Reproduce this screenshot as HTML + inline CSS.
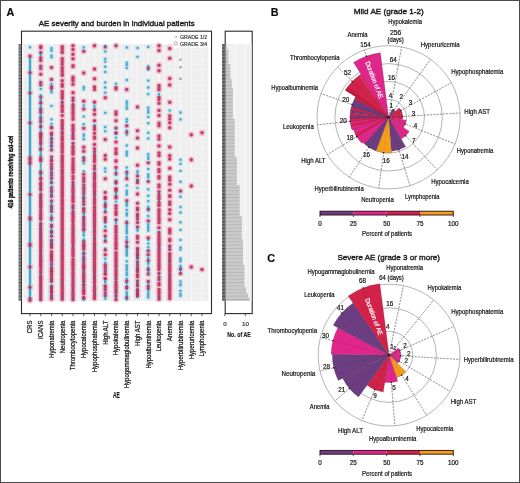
<!DOCTYPE html>
<html><head><meta charset="utf-8"><style>
html,body{margin:0;padding:0;background:#fff;}
body{width:520px;height:483px;overflow:hidden;}
svg{display:block;font-family:"Liberation Sans",sans-serif;will-change:transform;}
</style></head><body>
<svg width="520" height="483" viewBox="0 0 520 483">
<defs><filter id="gblur" x="0" y="0" width="100%" height="100%"><feGaussianBlur stdDeviation="0.3"/></filter><pattern id="tickpat" patternUnits="userSpaceOnUse" x="0" y="44.1" width="10" height="3.4"><rect width="10" height="3.4" fill="#8a8a8a"/><rect y="0" width="10" height="1.2" fill="#606060"/></pattern><pattern id="tickpat2" patternUnits="userSpaceOnUse" x="0" y="44.1" width="10" height="3.4"><rect width="10" height="3.4" fill="#7a7a7a"/><rect y="0" width="10" height="1.3" fill="#444"/></pattern><pattern id="histpat" patternUnits="userSpaceOnUse" x="0" y="44.1" width="10" height="3.4"><rect width="10" height="3.4" fill="#cacaca"/><rect y="0" width="10" height="0.8" fill="#b4b4b4"/></pattern><filter id="soft" x="-5%" y="-5%" width="110%" height="110%"><feGaussianBlur stdDeviation="0.2"/></filter></defs>
<rect x="0" y="0" width="520" height="483" fill="#fff"/>
<g filter="url(#gblur)">
<text x="6.6" y="15.8" font-size="10.8" font-weight="bold" fill="#111" stroke="#111" stroke-width="0.2">A</text>
<text x="38.8" y="26.2" font-size="8" textLength="155.8" lengthAdjust="spacingAndGlyphs" fill="#151515" stroke="#151515" stroke-width="0.36">AE severity and burden in individual patients</text>
<rect x="21.5" y="31.2" width="190" height="282.4" fill="#fff" stroke="#2a2a2a" stroke-width="1.1"/>
<rect x="23.3" y="44.1" width="185.2" height="256.9" fill="#eeeeee"/>
<path d="M30 44.1V301.0M40.75 44.1V301.0M51.5 44.1V301.0M62.25 44.1V301.0M73 44.1V301.0M83.75 44.1V301.0M94.5 44.1V301.0M105.25 44.1V301.0M116 44.1V301.0M126.75 44.1V301.0M137.5 44.1V301.0M148.25 44.1V301.0M159 44.1V301.0M169.75 44.1V301.0M180.5 44.1V301.0M191.25 44.1V301.0M202 44.1V301.0" stroke="#fafafa" stroke-width="0.9"/>
<path d="M35.38 44.1V301.0M46.12 44.1V301.0M56.88 44.1V301.0M67.62 44.1V301.0M78.38 44.1V301.0M89.12 44.1V301.0M99.88 44.1V301.0M110.62 44.1V301.0M121.38 44.1V301.0M132.12 44.1V301.0M142.88 44.1V301.0M153.62 44.1V301.0M164.38 44.1V301.0M175.12 44.1V301.0M185.88 44.1V301.0M196.62 44.1V301.0" stroke="#f6f6f6" stroke-width="0.6"/>
<path d="M23.3 49.1H208.5M23.3 54.3H208.5M23.3 59.5H208.5M23.3 64.7H208.5M23.3 69.9H208.5M23.3 75.1H208.5M23.3 80.3H208.5M23.3 85.5H208.5M23.3 90.7H208.5M23.3 95.9H208.5M23.3 101.1H208.5M23.3 106.3H208.5M23.3 111.5H208.5M23.3 116.7H208.5M23.3 121.9H208.5M23.3 127.1H208.5M23.3 132.3H208.5M23.3 137.5H208.5M23.3 142.7H208.5M23.3 147.9H208.5M23.3 153.1H208.5M23.3 158.3H208.5M23.3 163.5H208.5M23.3 168.7H208.5M23.3 173.9H208.5M23.3 179.1H208.5M23.3 184.3H208.5M23.3 189.5H208.5M23.3 194.7H208.5M23.3 199.9H208.5M23.3 205.1H208.5M23.3 210.3H208.5M23.3 215.5H208.5M23.3 220.7H208.5M23.3 225.9H208.5M23.3 231.1H208.5M23.3 236.3H208.5M23.3 241.5H208.5M23.3 246.7H208.5M23.3 251.9H208.5M23.3 257.1H208.5M23.3 262.3H208.5M23.3 267.5H208.5M23.3 272.7H208.5M23.3 277.9H208.5M23.3 283.1H208.5M23.3 288.3H208.5M23.3 293.5H208.5M23.3 298.7H208.5" stroke="#f4f4f4" stroke-width="0.5"/>
<rect x="18.5" y="44.1" width="2.7" height="256.6" fill="url(#tickpat)"/>
<g filter="url(#soft)">
<path d="M40.75 46.57v0M40.75 57.73v0M40.75 74.35v0M40.75 102.68v0M40.75 126.62v0M40.75 134.23v0M40.75 134.81v0M40.75 136.3v0M40.75 137.15v0M40.75 137.56v0M40.75 138.4v0M40.75 141.59v0M40.75 143.72v0M40.75 148.64v0M40.75 149.49v0M40.75 158.1v0M40.75 159.48v0M40.75 160.61v0M40.75 172.18v0M40.75 173.03v0M40.75 178.21v0M40.75 178.99v0M40.75 183v0M40.75 184.35v0M40.75 185.09v0M40.75 187.69v0M40.75 189.43v0M40.75 194.66v0M40.75 195.54v0M40.75 197.45v0M40.75 198.06v0M40.75 200.49v0M40.75 202.12v0M40.75 203.44v0M40.75 204.85v0M40.75 205.86v0M40.75 207.57v0M40.75 210.62v0M40.75 213.51v0M40.75 215.4v0M40.75 217.7v0M40.75 219.06v0M40.75 223.7v0M40.75 225.8v0M40.75 226.25v0M40.75 228.85v0M40.75 230.04v0M40.75 231.9v0M40.75 232.85v0M40.75 234.37v0M40.75 235.3v0M40.75 236.71v0M40.75 237.13v0M40.75 237.57v0M40.75 239.17v0M40.75 239.91v0M40.75 240.3v0M40.75 241.16v0M40.75 242.46v0M40.75 242.78v0M40.75 245.1v0M40.75 246.31v0M40.75 247.57v0M40.75 249.6v0M40.75 251.32v0M40.75 251.72v0M40.75 253.98v0M40.75 255.89v0M40.75 256.68v0M40.75 258.36v0M40.75 259.3v0M40.75 259.92v0M40.75 260.65v0M40.75 261.43v0M40.75 262.7v0M40.75 264.68v0M40.75 265.5v0M40.75 267.5v0M40.75 270.44v0M40.75 272.48v0M40.75 275.73v0M40.75 277.55v0M40.75 278.05v0M40.75 279.58v0M40.75 280.71v0M40.75 282.84v0M40.75 284.89v0M40.75 285.59v0M40.75 287.67v0M40.75 288.57v0M40.75 290.83v0M40.75 291.25v0M40.75 293.35v0M40.75 294.06v0M40.75 295.79v0M40.75 296.85v0M40.75 298.3v0M40.75 299.51v0M51.5 67.62v0M51.5 88.2v0M51.5 127.14v0M51.5 133.3v0M51.5 160.81v0M51.5 226.62v0M51.5 231.55v0M51.5 245.12v0M51.5 246.58v0M51.5 254.36v0M51.5 255.53v0M51.5 258.71v0M51.5 268.89v0M51.5 270.41v0M51.5 270.93v0M51.5 275.45v0M51.5 279.88v0M51.5 286.69v0M51.5 288.21v0M51.5 290.23v0M51.5 292.61v0M51.5 295.49v0M62.25 46.67v0M62.25 49.03v0M62.25 51.64v0M62.25 52.41v0M62.25 58.75v0M62.25 61.51v0M62.25 64.27v0M62.25 67.84v0M62.25 68.3v0M62.25 70.48v0M62.25 71.38v0M62.25 74.12v0M62.25 75.34v0M62.25 80.8v0M62.25 84.35v0M62.25 84.98v0M62.25 86.23v0M62.25 91.42v0M62.25 93.44v0M62.25 95.3v0M62.25 96.29v0M62.25 97.45v0M62.25 98.38v0M62.25 102.44v0M62.25 105.45v0M62.25 106.28v0M62.25 106.7v0M62.25 109.41v0M62.25 111.42v0M62.25 115.45v0M62.25 120.42v0M62.25 120.98v0M62.25 121.36v0M62.25 123.47v0M62.25 124.4v0M62.25 125.4v0M62.25 126.26v0M62.25 128.57v0M62.25 128.94v0M62.25 131.97v0M62.25 133.54v0M62.25 134.04v0M62.25 136.86v0M62.25 138.23v0M62.25 138.9v0M62.25 139.62v0M62.25 140.15v0M62.25 143.14v0M62.25 144.96v0M62.25 146.03v0M62.25 146.72v0M62.25 148.06v0M62.25 148.79v0M62.25 151.31v0M62.25 152.25v0M62.25 155.73v0M62.25 156.33v0M62.25 157.83v0M62.25 158.46v0M62.25 159.03v0M62.25 160.33v0M62.25 160.95v0M62.25 161.42v0M62.25 162.38v0M62.25 164.53v0M62.25 166.17v0M62.25 167.11v0M62.25 169.63v0M62.25 171.18v0M62.25 172.62v0M62.25 173.95v0M62.25 174.58v0M62.25 176.81v0M62.25 178.46v0M62.25 179.2v0M62.25 180.11v0M62.25 181.52v0M62.25 182.48v0M62.25 184.02v0M62.25 185.47v0M62.25 186.46v0M62.25 187.55v0M62.25 187.97v0M62.25 189.59v0M62.25 190.41v0M62.25 191.85v0M62.25 192.28v0M62.25 192.63v0M62.25 192.92v0M62.25 194.36v0M62.25 194.89v0M62.25 195.84v0M62.25 196.57v0M62.25 198.27v0M62.25 199.07v0M62.25 200.18v0M62.25 200.96v0M62.25 201.37v0M62.25 202.04v0M62.25 203.4v0M62.25 203.98v0M62.25 205.08v0M62.25 205.42v0M62.25 207.37v0M62.25 207.65v0M62.25 208.17v0M62.25 208.68v0M62.25 209.11v0M62.25 209.56v0M62.25 211.17v0M62.25 212.81v0M62.25 214.05v0M62.25 214.79v0M62.25 215.32v0M62.25 216.13v0M62.25 216.55v0M62.25 217.44v0M62.25 218.36v0M62.25 219.01v0M62.25 219.37v0M62.25 219.67v0M62.25 220.46v0M62.25 221.78v0M62.25 222.55v0M62.25 223.03v0M62.25 223.94v0M62.25 224.75v0M62.25 225.34v0M62.25 226.4v0M62.25 227.72v0M62.25 228.04v0M62.25 228.5v0M62.25 229.62v0M62.25 230.62v0M62.25 231.85v0M62.25 232.32v0M62.25 233.84v0M62.25 234.48v0M62.25 235.38v0M62.25 236.07v0M62.25 237.14v0M62.25 238.04v0M62.25 239.75v0M62.25 240.47v0M62.25 242.06v0M62.25 243.12v0M62.25 244.28v0M62.25 244.64v0M62.25 244.92v0M62.25 245.25v0M62.25 247.28v0M62.25 248.3v0M62.25 249.36v0M62.25 249.92v0M62.25 250.26v0M62.25 250.96v0M62.25 252v0M62.25 252.64v0M62.25 254.15v0M62.25 254.49v0M62.25 255.44v0M62.25 256.38v0M62.25 257.52v0M62.25 258.19v0M62.25 259.99v0M62.25 260.87v0M62.25 262.48v0M62.25 263.07v0M62.25 264.4v0M62.25 265.34v0M62.25 265.79v0M62.25 267.3v0M62.25 268.89v0M62.25 269.77v0M62.25 270.56v0M62.25 271v0M62.25 272.16v0M62.25 272.8v0M62.25 273.11v0M62.25 273.49v0M62.25 273.9v0M62.25 274.69v0M62.25 275.43v0M62.25 276.87v0M62.25 278.26v0M62.25 278.71v0M62.25 279.03v0M62.25 279.74v0M62.25 280.07v0M62.25 280.45v0M62.25 281.31v0M62.25 282.38v0M62.25 283.24v0M62.25 283.55v0M62.25 284.57v0M62.25 284.97v0M62.25 286.06v0M62.25 286.62v0M62.25 287.36v0M62.25 287.76v0M62.25 288.96v0M62.25 289.66v0M62.25 291.48v0M62.25 292.06v0M62.25 293.03v0M62.25 293.36v0M62.25 293.76v0M62.25 294.41v0M62.25 294.84v0M62.25 295.3v0M62.25 295.8v0M62.25 296.33v0M62.25 297.83v0M62.25 298.27v0M62.25 298.74v0M62.25 299.17v0M73 45.86v0M73 49.45v0M73 54.31v0M73 58.79v0M73 65.72v0M73 66.47v0M73 77.16v0M73 77.61v0M73 79.06v0M73 80.37v0M73 80.7v0M73 84.22v0M73 92.69v0M73 97.96v0M73 100.8v0M73 104.85v0M73 106.24v0M73 107.01v0M73 107.41v0M73 110.12v0M73 112.57v0M73 113.39v0M73 116.41v0M73 119.2v0M73 125.21v0M73 126.97v0M73 128.59v0M73 129.99v0M73 131.72v0M73 134.64v0M73 136.04v0M73 137.67v0M73 138.4v0M73 143.33v0M73 146.17v0M73 147.16v0M73 148.28v0M73 150.48v0M73 151.49v0M73 152.19v0M73 153.25v0M73 154.18v0M73 158.83v0M73 161.18v0M73 162.66v0M73 164.14v0M73 164.96v0M73 166.08v0M73 167.85v0M73 168.32v0M73 168.77v0M73 169.58v0M73 170.23v0M73 172.54v0M73 176.22v0M73 178.9v0M73 182.39v0M73 185.12v0M73 187.58v0M73 188.76v0M73 189.78v0M73 190.65v0M73 191.91v0M73 192.73v0M73 194.91v0M73 195.94v0M73 196.32v0M73 197.61v0M73 198.82v0M73 199.68v0M73 200.9v0M73 201.83v0M73 205.52v0M73 207.23v0M73 208.2v0M73 211.74v0M73 212.91v0M73 213.48v0M73 214.32v0M73 214.68v0M73 215.44v0M73 216.2v0M73 217.87v0M73 219.14v0M73 220.36v0M73 221.3v0M73 221.75v0M73 224.48v0M73 226.72v0M73 227.56v0M73 228v0M73 228.83v0M73 229.21v0M73 230.67v0M73 231.44v0M73 233.1v0M73 233.99v0M73 234.75v0M73 235.3v0M73 236.58v0M73 237.46v0M73 237.94v0M73 238.6v0M73 240.22v0M73 240.91v0M73 241.9v0M73 242.43v0M73 243.3v0M73 243.93v0M73 246.82v0M73 248.22v0M73 248.7v0M73 249.39v0M73 250.97v0M73 251.85v0M73 253.45v0M73 254.28v0M73 254.67v0M73 255.15v0M73 256.05v0M73 259.62v0M73 261.27v0M73 262.19v0M73 262.84v0M73 264.29v0M73 264.64v0M73 265.37v0M73 266.11v0M73 267.93v0M73 269.59v0M73 272.34v0M73 272.69v0M73 273.05v0M73 273.47v0M73 275.47v0M73 275.89v0M73 277.83v0M73 278.82v0M73 280.19v0M73 281.94v0M73 283.14v0M73 284.33v0M73 285.15v0M73 285.89v0M73 287.49v0M73 289.29v0M73 289.79v0M73 292.32v0M73 292.86v0M73 293.87v0M73 294.33v0M73 295.02v0M73 296v0M73 297.02v0M73 298.45v0M73 299.41v0M83.75 101.37v0M83.75 147.15v0M83.75 174.27v0M83.75 177.83v0M83.75 201.52v0M83.75 209.45v0M83.75 217.35v0M83.75 219.25v0M83.75 221.06v0M83.75 230.05v0M83.75 245.71v0M83.75 247.37v0M83.75 263.77v0M83.75 266.6v0M83.75 269.51v0M83.75 275.59v0M83.75 276.87v0M83.75 277.82v0M83.75 278.16v0M83.75 279.42v0M83.75 281.02v0M83.75 285.55v0M83.75 287.88v0M83.75 291.5v0M83.75 293.08v0M83.75 293.74v0M83.75 298.02v0M94.5 45.7v0M94.5 69.08v0M94.5 78.83v0M94.5 86.95v0M94.5 89.56v0M94.5 102.25v0M94.5 109.97v0M94.5 114.33v0M94.5 120.87v0M94.5 126.87v0M94.5 129.25v0M94.5 133.27v0M94.5 137.05v0M94.5 138.27v0M94.5 144.39v0M94.5 148.65v0M94.5 151.68v0M94.5 155.09v0M94.5 156.81v0M94.5 159.22v0M94.5 160.66v0M94.5 161.75v0M94.5 165.63v0M94.5 168.41v0M94.5 169.27v0M94.5 173.3v0M94.5 173.99v0M94.5 174.63v0M94.5 176.62v0M94.5 178.08v0M94.5 179.7v0M94.5 182.52v0M94.5 183.45v0M94.5 184.28v0M94.5 185.05v0M94.5 186.18v0M94.5 186.73v0M94.5 187.54v0M94.5 189.71v0M94.5 191.12v0M94.5 192.11v0M94.5 193.93v0M94.5 195.08v0M94.5 195.55v0M94.5 198.57v0M94.5 199.92v0M94.5 201.31v0M94.5 203.43v0M94.5 203.81v0M94.5 206.63v0M94.5 207.36v0M94.5 209.98v0M94.5 212.06v0M94.5 212.47v0M94.5 214.08v0M94.5 215v0M94.5 215.78v0M94.5 217.12v0M94.5 217.97v0M94.5 219.37v0M94.5 220.63v0M94.5 221.02v0M94.5 222.06v0M94.5 222.84v0M94.5 224.94v0M94.5 226.06v0M94.5 227.14v0M94.5 229.78v0M94.5 231.59v0M94.5 232.23v0M94.5 234.72v0M94.5 237.83v0M94.5 238.48v0M94.5 240.44v0M94.5 242.91v0M94.5 243.25v0M94.5 243.87v0M94.5 244.88v0M94.5 246.52v0M94.5 247.58v0M94.5 248.64v0M94.5 249.66v0M94.5 250.8v0M94.5 251.45v0M94.5 252.04v0M94.5 253.3v0M94.5 253.66v0M94.5 254.26v0M94.5 254.64v0M94.5 255.75v0M94.5 256.67v0M94.5 257.08v0M94.5 258.22v0M94.5 259.59v0M94.5 261.98v0M94.5 262.44v0M94.5 262.86v0M94.5 263.28v0M94.5 264.24v0M94.5 264.74v0M94.5 265.16v0M94.5 266.03v0M94.5 267.78v0M94.5 268.29v0M94.5 268.98v0M94.5 269.95v0M94.5 271.6v0M94.5 272.43v0M94.5 274.51v0M94.5 275.22v0M94.5 276.63v0M94.5 277.26v0M94.5 278.43v0M94.5 279.54v0M94.5 281.64v0M94.5 282.98v0M94.5 286.11v0M94.5 287.11v0M94.5 288.76v0M94.5 289.29v0M94.5 289.77v0M94.5 290.59v0M94.5 291.91v0M94.5 293.96v0M94.5 294.59v0M94.5 295.4v0M94.5 296.44v0M94.5 296.93v0M94.5 297.99v0M94.5 298.54v0M105.25 97.64v0M105.25 155.51v0M105.25 159.17v0M105.25 197.16v0M105.25 206.54v0M105.25 219.45v0M105.25 230.77v0M105.25 236.09v0M105.25 249.92v0M105.25 254.77v0M105.25 264.97v0M105.25 265.84v0M105.25 267.08v0M105.25 274.37v0M105.25 278.38v0M105.25 285.94v0M116 87.61v0M116 88.98v0M116 114.35v0M116 132.63v0M116 141.97v0M116 148.88v0M116 153.76v0M116 160.64v0M116 161.36v0M116 167.56v0M116 173.51v0M116 181.79v0M116 189.52v0M116 197.99v0M116 205.67v0M116 208.59v0M116 211.68v0M116 212.94v0M116 214.49v0M116 220.09v0M116 226.13v0M116 228.34v0M116 230.06v0M116 231.16v0M116 232.53v0M116 235.48v0M116 237.93v0M116 239.77v0M116 242.16v0M116 243.23v0M116 244.65v0M116 245.5v0M116 246.02v0M116 248.25v0M116 248.75v0M116 252.73v0M116 253.38v0M116 255.31v0M116 255.94v0M116 257.78v0M116 258.74v0M116 259.47v0M116 260.44v0M116 261.07v0M116 262v0M116 263.78v0M116 264.12v0M116 265.22v0M116 265.71v0M116 266.37v0M116 266.78v0M116 267.19v0M116 269.62v0M116 270.66v0M116 272.33v0M116 273.96v0M116 275.04v0M116 275.7v0M116 278.26v0M116 279.27v0M116 282.18v0M116 284.21v0M116 284.84v0M116 285.48v0M116 286.43v0M116 286.75v0M116 288.21v0M116 289.53v0M116 290.66v0M116 292.03v0M116 292.69v0M116 295.67v0M116 296.04v0M116 296.35v0M116 299.39v0M126.75 132.33v0M126.75 178.76v0M126.75 222.63v0M126.75 241.89v0M126.75 281.26v0M126.75 287.17v0M126.75 288.04v0M137.5 148.01v0M137.5 165.3v0M137.5 182.43v0M137.5 193.94v0M137.5 208.25v0M137.5 216.19v0M137.5 236.33v0M137.5 238.25v0M137.5 248.55v0M137.5 254.88v0M137.5 262.16v0M137.5 269.55v0M137.5 274.86v0M137.5 276.65v0M137.5 283.96v0M137.5 285.91v0M137.5 289.84v0M137.5 291.08v0M137.5 293.79v0M137.5 296.02v0M148.25 68.24v0M148.25 237.96v0M148.25 269.52v0M148.25 281.43v0M148.25 286.38v0M148.25 288.33v0M159 45.74v0M159 50.57v0M159 65.27v0M159 70.76v0M159 85.62v0M159 87.95v0M159 89.81v0M159 97.15v0M159 99.61v0M159 103.37v0M159 110.39v0M159 115.61v0M159 123.27v0M159 125.77v0M159 135.97v0M159 138.94v0M159 145.98v0M159 153.11v0M159 155.59v0M159 162.73v0M159 164.35v0M159 169.53v0M159 171.26v0M159 171.79v0M159 176.59v0M159 178.04v0M159 184.98v0M159 186.99v0M159 191.81v0M159 194.89v0M159 196.58v0M159 198.71v0M159 202.24v0M159 204.11v0M159 205.87v0M159 209.64v0M159 210.04v0M159 211.43v0M159 214.24v0M159 214.7v0M159 217.56v0M159 218.61v0M159 220.16v0M159 222.8v0M159 227.66v0M159 232.43v0M159 235.07v0M159 237.2v0M159 237.83v0M159 239.45v0M159 241.13v0M159 242.46v0M159 243.55v0M159 245.37v0M159 246.56v0M159 248.64v0M159 250.47v0M159 251.85v0M159 253.18v0M159 255.62v0M159 256.47v0M159 257.29v0M159 259.71v0M159 260.46v0M159 262.92v0M159 263.53v0M159 265.04v0M159 265.64v0M159 266.23v0M159 267.83v0M159 269.5v0M159 273.17v0M159 277v0M159 279.55v0M159 279.87v0M159 283.54v0M159 283.89v0M159 284.35v0M159 284.99v0M159 289.46v0M159 292.02v0M159 293.87v0M159 296.19v0M159 298.21v0M159 299.01v0M169.75 48.46v0M169.75 58.35v0M169.75 78.54v0M169.75 84.88v0M169.75 102.17v0M169.75 116.01v0M169.75 118.99v0M169.75 122.82v0M169.75 127.85v0M169.75 147.11v0M169.75 155.63v0M169.75 158.95v0M169.75 168.28v0M169.75 177.06v0M169.75 178.46v0M169.75 180.25v0M169.75 184.13v0M169.75 190.36v0M169.75 195.82v0M169.75 196.59v0M169.75 201.9v0M169.75 204.61v0M169.75 209.79v0M169.75 213.52v0M169.75 219.67v0M169.75 229.24v0M169.75 230.71v0M169.75 231.47v0M169.75 233.12v0M169.75 239.22v0M169.75 240.8v0M169.75 245.98v0M169.75 246.44v0M169.75 249.49v0M169.75 253.73v0M169.75 254.56v0M169.75 256.05v0M169.75 257.7v0M169.75 259.7v0M169.75 261.25v0M169.75 261.89v0M169.75 264.78v0M169.75 266.98v0M169.75 268.25v0M169.75 269.24v0M169.75 270.13v0M169.75 271.7v0M169.75 274.2v0M169.75 275.33v0M169.75 275.89v0M169.75 277.92v0M169.75 279.04v0M169.75 280.31v0M169.75 281.56v0M169.75 282.18v0M169.75 282.97v0M169.75 283.34v0M169.75 284.26v0M169.75 284.7v0M169.75 285.61v0M169.75 286.69v0M169.75 287.45v0M169.75 288.15v0M169.75 288.96v0M169.75 289.37v0M169.75 291.15v0M169.75 291.59v0M169.75 294.06v0M169.75 294.75v0M169.75 296.48v0M169.75 298.47v0M180.5 273.42v0M30 56.3v0M30 72.8v0M30 93v0M30 123v0M30 157.7v0M30 159.2v0M30 162v0M30 163.5v0M30 194.6v0M30 217.7v0M30 219.2v0M30 244v0M30 245.5v0M30 267v0M30 287.3v0M30 298.8v0M30 300.3v0M191.25 134.8v0M191.25 159.8v0M191.25 186v0M191.25 267v0M202 132.8v0M202 269.6v0M40.75 47.63v0M40.75 52.49v0M40.75 60.45v0M40.75 66.33v0M40.75 68.4v0M40.75 82.53v0M40.75 84.94v0M40.75 97.08v0M40.75 109.27v0M40.75 109.94v0M40.75 112.21v0M40.75 118.17v0M40.75 121.52v0M40.75 133.52v0M51.5 79.45v0M51.5 86.82v0M51.5 128.07v0M51.5 134.83v0M51.5 138.5v0M51.5 139.21v0M51.5 142.59v0M51.5 145.9v0M51.5 150.06v0M51.5 157.02v0M51.5 160.34v0M51.5 163.88v0M51.5 166.82v0M51.5 169v0M51.5 172.53v0M51.5 175.16v0M51.5 178.14v0M51.5 182.7v0M51.5 187.9v0M51.5 190.62v0M51.5 191.5v0M51.5 195.01v0M51.5 196.59v0M51.5 200.9v0M51.5 205.96v0M51.5 206.9v0M51.5 208.97v0M51.5 211.52v0M51.5 217.86v0M51.5 219.02v0M51.5 224.98v0M51.5 232.29v0M51.5 236.24v0M51.5 240.27v0M51.5 242.22v0M51.5 243.87v0M51.5 244.6v0M51.5 247.53v0M51.5 251.87v0M51.5 256.8v0M51.5 259.74v0M51.5 261.17v0M51.5 264.29v0M51.5 267.87v0M51.5 271.8v0M51.5 273.72v0M51.5 278.21v0M51.5 278.71v0M51.5 281.43v0M51.5 287.84v0M51.5 291.56v0M51.5 297.43v0M51.5 298.01v0M51.5 298.73v0M83.75 51.23v0M83.75 73.04v0M83.75 109.05v0M83.75 128.18v0M83.75 151.22v0M83.75 158.03v0M83.75 160.32v0M83.75 180.3v0M83.75 181.39v0M83.75 185.1v0M83.75 187.62v0M83.75 188.59v0M83.75 189.28v0M83.75 191.8v0M83.75 194v0M83.75 197.56v0M83.75 198.59v0M83.75 204.52v0M83.75 208.43v0M83.75 211.66v0M83.75 223.18v0M83.75 224.76v0M83.75 225.05v0M83.75 226.58v0M83.75 229.11v0M83.75 241.57v0M83.75 242.8v0M83.75 243.92v0M83.75 245.25v0M83.75 249.14v0M83.75 253.26v0M83.75 254.1v0M83.75 257.59v0M83.75 259.43v0M83.75 261.32v0M83.75 266.04v0M83.75 267.68v0M83.75 272.28v0M83.75 273.61v0M83.75 282.05v0M83.75 284.45v0M83.75 290.27v0M83.75 297.52v0M83.75 298.59v0M105.25 47.08v0M105.25 139.43v0M105.25 178.66v0M105.25 192.58v0M105.25 198.78v0M105.25 204.51v0M105.25 212.12v0M105.25 217.58v0M105.25 221.78v0M105.25 241.31v0M105.25 269.38v0M105.25 271.24v0M105.25 273.52v0M105.25 278.77v0M105.25 286.44v0M105.25 289.08v0M105.25 289.86v0M105.25 292.95v0M105.25 295.75v0M116 45.79v0M116 112v0M116 120.67v0M116 128.11v0M116 133.16v0M116 152.02v0M116 182.88v0M116 188.65v0M116 189.19v0M116 190.29v0M116 191.03v0M116 196.37v0M126.75 89.44v0M126.75 125.81v0M126.75 172.59v0M126.75 200.73v0M126.75 246.39v0M126.75 297.76v0M137.5 106.91v0M137.5 130.8v0M137.5 137.91v0M137.5 176.06v0M137.5 180.14v0M137.5 203.33v0M137.5 209.89v0M137.5 214.15v0M137.5 214.95v0M137.5 219v0M137.5 222.54v0M137.5 227.12v0M137.5 242.37v0M137.5 249.87v0M137.5 251.7v0M137.5 253.67v0M137.5 255.87v0M137.5 257.5v0M137.5 257.97v0M137.5 265.48v0M137.5 267.96v0M137.5 270.21v0M137.5 271.73v0M137.5 280.88v0M137.5 290.47v0M137.5 293.25v0M137.5 294.61v0M148.25 162.76v0M148.25 181.48v0M148.25 209.3v0M148.25 221v0M148.25 251.08v0M148.25 254.69v0M148.25 260.44v0M148.25 274.06v0M180.5 190.91v0M180.5 269v0" stroke="#f3bfd0" stroke-width="6.4" stroke-linecap="round" fill="none"/>
<path d="M40.75 53.69v0M40.75 54.87v0M40.75 88.92v0M40.75 95.33v0M40.75 100.21v0M40.75 107.45v0M40.75 108.85v0M40.75 115.47v0M40.75 117.26v0M40.75 123.39v0M40.75 127.18v0M40.75 139.95v0M40.75 143.04v0M40.75 145.95v0M40.75 150.51v0M40.75 155.18v0M40.75 171.12v0M40.75 174.73v0M40.75 175.22v0M40.75 185.77v0M40.75 199.45v0M40.75 225.29v0M40.75 228.32v0M40.75 229.43v0M40.75 231.37v0M40.75 235.73v0M40.75 236.21v0M40.75 238.5v0M40.75 248.86v0M40.75 254.43v0M40.75 257.76v0M40.75 273.69v0M40.75 297.16v0M40.75 297.77v0M51.5 48.26v0M51.5 50.65v0M51.5 55.6v0M51.5 57.27v0M51.5 83.89v0M51.5 90.71v0M51.5 92.27v0M51.5 105.89v0M51.5 119.34v0M51.5 123.87v0M51.5 135.82v0M51.5 137.75v0M51.5 141.17v0M51.5 144.98v0M51.5 147.95v0M51.5 148.35v0M51.5 157.88v0M51.5 170.26v0M51.5 173.6v0M51.5 179.45v0M51.5 180.19v0M51.5 181.72v0M51.5 186.46v0M51.5 191.99v0M51.5 192.95v0M51.5 196.04v0M51.5 202.47v0M51.5 203.13v0M51.5 203.48v0M51.5 207.18v0M51.5 210.5v0M51.5 215.27v0M51.5 220.79v0M51.5 225.52v0M51.5 228.97v0M51.5 230.76v0M51.5 233.31v0M51.5 234.53v0M51.5 239.91v0M51.5 241.11v0M51.5 241.58v0M51.5 243.06v0M51.5 245.62v0M51.5 265.57v0M51.5 266.43v0M51.5 267.32v0M51.5 280.34v0M51.5 285.26v0M51.5 285.78v0M51.5 286.17v0M51.5 287.26v0M51.5 290.75v0M51.5 294.18v0M51.5 295.13v0M62.25 101.17v0M62.25 127.37v0M62.25 241.42v0M62.25 282.8v0M62.25 297.56v0M73 98.62v0M73 103.8v0M73 133.78v0M73 142.95v0M73 181.91v0M73 186.23v0M73 194.21v0M73 206.53v0M73 207.78v0M73 210.94v0M73 232.19v0M73 245.73v0M73 279.76v0M73 288.62v0M73 297.44v0M83.75 47.53v0M83.75 87.05v0M83.75 89.33v0M83.75 105.51v0M83.75 116.39v0M83.75 124.15v0M83.75 134.41v0M83.75 135.8v0M83.75 138.91v0M83.75 139.22v0M83.75 156.96v0M83.75 163.28v0M83.75 171.29v0M83.75 194.58v0M83.75 196.41v0M83.75 197v0M83.75 199.54v0M83.75 200.84v0M83.75 208.03v0M83.75 213.71v0M83.75 214.81v0M83.75 216.36v0M83.75 218.15v0M83.75 220.61v0M83.75 231.93v0M83.75 234.57v0M83.75 235.52v0M83.75 239.5v0M83.75 240.31v0M83.75 252.14v0M83.75 252.55v0M83.75 254.8v0M83.75 256.38v0M83.75 256.79v0M83.75 258.53v0M83.75 260.55v0M83.75 262.55v0M83.75 270.26v0M83.75 274.81v0M83.75 280.58v0M83.75 283.09v0M83.75 287.3v0M83.75 299.49v0M94.5 105.62v0M94.5 108.07v0M94.5 124.85v0M94.5 151.41v0M94.5 154.12v0M94.5 166.66v0M94.5 172.11v0M94.5 193.31v0M94.5 197.13v0M94.5 228.66v0M94.5 236.4v0M94.5 239.78v0M94.5 246.99v0M94.5 272.13v0M94.5 274.24v0M94.5 277.76v0M94.5 284.93v0M94.5 293.62v0M105.25 45.96v0M105.25 51.39v0M105.25 58.83v0M105.25 61.62v0M105.25 66.64v0M105.25 72.01v0M105.25 82.39v0M105.25 87.45v0M105.25 92.66v0M105.25 112.84v0M105.25 126.97v0M105.25 131.13v0M105.25 168.4v0M105.25 171.6v0M105.25 201.86v0M105.25 203.17v0M105.25 208.56v0M105.25 211.08v0M105.25 220.05v0M105.25 222.52v0M105.25 226.3v0M105.25 227.05v0M105.25 237.86v0M105.25 239.99v0M105.25 248.54v0M105.25 258.76v0M105.25 262.54v0M105.25 263.12v0M105.25 270.86v0M105.25 281.05v0M105.25 282.13v0M105.25 282.86v0M105.25 298.53v0M116 83.74v0M116 128.78v0M116 133.64v0M116 137.58v0M116 170.49v0M116 174.91v0M116 180.72v0M116 183.66v0M116 191.7v0M116 192.97v0M116 193.66v0M116 201.61v0M116 219.27v0M116 220.45v0M116 223.2v0M116 230.86v0M116 268.51v0M116 269.08v0M116 277.32v0M116 277.87v0M116 281.41v0M116 283.28v0M116 290.19v0M116 293.73v0M116 295.06v0M116 297.33v0M126.75 47.57v0M126.75 62.67v0M126.75 65.02v0M126.75 67.91v0M126.75 79.96v0M126.75 101.57v0M126.75 103.73v0M126.75 106.34v0M126.75 108.71v0M126.75 119.29v0M126.75 121.7v0M126.75 130.37v0M126.75 134.65v0M126.75 145.52v0M126.75 151.76v0M126.75 153.49v0M126.75 155.56v0M126.75 167.54v0M126.75 171.28v0M126.75 174.81v0M126.75 175.96v0M126.75 177.95v0M126.75 185.42v0M126.75 190.75v0M126.75 191.92v0M126.75 192.51v0M126.75 194.52v0M126.75 202.08v0M126.75 202.8v0M126.75 203.68v0M126.75 204.45v0M126.75 205.75v0M126.75 210.06v0M126.75 213.29v0M126.75 214.68v0M126.75 215.56v0M126.75 221.31v0M126.75 225.3v0M126.75 226.23v0M126.75 228.3v0M126.75 230.38v0M126.75 230.92v0M126.75 231.96v0M126.75 233.18v0M126.75 237.06v0M126.75 239.44v0M126.75 243.88v0M126.75 244.38v0M126.75 245.83v0M126.75 247.24v0M126.75 247.97v0M126.75 249.34v0M126.75 250.22v0M126.75 251.13v0M126.75 252.1v0M126.75 252.85v0M126.75 253.72v0M126.75 254.41v0M126.75 255.14v0M126.75 255.45v0M126.75 261.23v0M126.75 265.24v0M126.75 266.27v0M126.75 267.31v0M126.75 269.15v0M126.75 269.91v0M126.75 272.49v0M126.75 274.43v0M126.75 274.99v0M126.75 278.64v0M126.75 279.21v0M126.75 283.13v0M126.75 285.97v0M126.75 286.67v0M126.75 288.85v0M126.75 291.91v0M126.75 293.73v0M126.75 294.62v0M126.75 295.13v0M126.75 296.52v0M126.75 297.22v0M126.75 299.19v0M137.5 48.06v0M137.5 56.87v0M137.5 171.26v0M137.5 172.69v0M137.5 180.52v0M137.5 188.11v0M137.5 229.23v0M137.5 230.74v0M137.5 250.71v0M137.5 256.89v0M137.5 258.44v0M137.5 260.72v0M137.5 263.5v0M137.5 263.96v0M137.5 268.63v0M137.5 281.54v0M137.5 281.81v0M137.5 283v0M137.5 285.12v0M137.5 289.05v0M137.5 292.81v0M137.5 296.88v0M148.25 46.88v0M148.25 66.13v0M148.25 69.84v0M148.25 80.6v0M148.25 87.53v0M148.25 94.12v0M148.25 107.77v0M148.25 110.48v0M148.25 112.46v0M148.25 116.88v0M148.25 123.22v0M148.25 132.72v0M148.25 138.4v0M148.25 154.31v0M148.25 156.84v0M148.25 158.72v0M148.25 169.05v0M148.25 174.45v0M148.25 176.11v0M148.25 177.59v0M148.25 180.85v0M148.25 189.18v0M148.25 195.77v0M148.25 201.17v0M148.25 206.86v0M148.25 208.91v0M148.25 210.59v0M148.25 215.98v0M148.25 224.18v0M148.25 226.54v0M148.25 227.82v0M148.25 228.65v0M148.25 230.45v0M148.25 239.75v0M148.25 243.56v0M148.25 247.16v0M148.25 249.83v0M148.25 258.06v0M148.25 261.78v0M148.25 262.42v0M148.25 263.81v0M148.25 266.94v0M148.25 268.93v0M148.25 271.59v0M148.25 272.39v0M148.25 282.03v0M148.25 282.68v0M148.25 284.7v0M148.25 289.71v0M148.25 291.27v0M148.25 293.45v0M148.25 294.09v0M148.25 295v0M148.25 296.85v0M148.25 297.57v0M159 94.19v0M159 193.98v0M159 200.55v0M159 231.99v0M159 247.61v0M159 274.23v0M159 278.84v0M159 297.48v0M169.75 110.62v0M169.75 247.79v0M169.75 260.94v0M169.75 277.12v0M180.5 112.56v0M180.5 119.4v0M180.5 159.73v0M180.5 163.9v0M180.5 170.9v0M180.5 181.76v0M180.5 196.76v0M180.5 206.99v0M180.5 212.49v0M180.5 222.18v0M180.5 229.85v0M180.5 239.97v0M180.5 247.45v0M180.5 249.62v0M180.5 258.34v0M180.5 259.39v0M180.5 261.19v0M180.5 265.94v0M180.5 267.61v0M180.5 269.27v0M180.5 270.03v0M180.5 272.57v0M180.5 281.49v0M180.5 284.26v0M180.5 285.36v0M180.5 290.9v0M180.5 293.86v0M180.5 295.69v0M30 47.3v0" stroke="#bfe6f4" stroke-width="5.0" stroke-linecap="round" fill="none"/>
<rect x="28" y="56.5" width="4" height="244.3" fill="#c2e6f2"/>
<rect x="28.85" y="57" width="2.3" height="243.8" fill="#5eb0d6"/>
<rect x="29.55" y="57" width="0.9" height="243.8" fill="#4791b5"/>
<rect x="39.65" y="98" width="2.2" height="202.8" fill="#6aa5c8"/>
<path d="M40.75 53.69v0M40.75 54.87v0M40.75 88.92v0M40.75 95.33v0M40.75 100.21v0M40.75 107.45v0M40.75 108.85v0M40.75 115.47v0M40.75 117.26v0M40.75 123.39v0M40.75 127.18v0M40.75 139.95v0M40.75 143.04v0M40.75 145.95v0M40.75 150.51v0M40.75 155.18v0M40.75 171.12v0M40.75 174.73v0M40.75 175.22v0M40.75 185.77v0M40.75 199.45v0M40.75 225.29v0M40.75 228.32v0M40.75 229.43v0M40.75 231.37v0M40.75 235.73v0M40.75 236.21v0M40.75 238.5v0M40.75 248.86v0M40.75 254.43v0M40.75 257.76v0M40.75 273.69v0M40.75 297.16v0M40.75 297.77v0M51.5 48.26v0M51.5 50.65v0M51.5 55.6v0M51.5 57.27v0M51.5 83.89v0M51.5 90.71v0M51.5 92.27v0M51.5 105.89v0M51.5 119.34v0M51.5 123.87v0M51.5 135.82v0M51.5 137.75v0M51.5 141.17v0M51.5 144.98v0M51.5 147.95v0M51.5 148.35v0M51.5 157.88v0M51.5 170.26v0M51.5 173.6v0M51.5 179.45v0M51.5 180.19v0M51.5 181.72v0M51.5 186.46v0M51.5 191.99v0M51.5 192.95v0M51.5 196.04v0M51.5 202.47v0M51.5 203.13v0M51.5 203.48v0M51.5 207.18v0M51.5 210.5v0M51.5 215.27v0M51.5 220.79v0M51.5 225.52v0M51.5 228.97v0M51.5 230.76v0M51.5 233.31v0M51.5 234.53v0M51.5 239.91v0M51.5 241.11v0M51.5 241.58v0M51.5 243.06v0M51.5 245.62v0M51.5 265.57v0M51.5 266.43v0M51.5 267.32v0M51.5 280.34v0M51.5 285.26v0M51.5 285.78v0M51.5 286.17v0M51.5 287.26v0M51.5 290.75v0M51.5 294.18v0M51.5 295.13v0M62.25 101.17v0M62.25 127.37v0M62.25 241.42v0M62.25 282.8v0M62.25 297.56v0M73 98.62v0M73 103.8v0M73 133.78v0M73 142.95v0M73 181.91v0M73 186.23v0M73 194.21v0M73 206.53v0M73 207.78v0M73 210.94v0M73 232.19v0M73 245.73v0M73 279.76v0M73 288.62v0M73 297.44v0M83.75 47.53v0M83.75 87.05v0M83.75 89.33v0M83.75 105.51v0M83.75 116.39v0M83.75 124.15v0M83.75 134.41v0M83.75 135.8v0M83.75 138.91v0M83.75 139.22v0M83.75 156.96v0M83.75 163.28v0M83.75 171.29v0M83.75 194.58v0M83.75 196.41v0M83.75 197v0M83.75 199.54v0M83.75 200.84v0M83.75 208.03v0M83.75 213.71v0M83.75 214.81v0M83.75 216.36v0M83.75 218.15v0M83.75 220.61v0M83.75 231.93v0M83.75 234.57v0M83.75 235.52v0M83.75 239.5v0M83.75 240.31v0M83.75 252.14v0M83.75 252.55v0M83.75 254.8v0M83.75 256.38v0M83.75 256.79v0M83.75 258.53v0M83.75 260.55v0M83.75 262.55v0M83.75 270.26v0M83.75 274.81v0M83.75 280.58v0M83.75 283.09v0M83.75 287.3v0M83.75 299.49v0M94.5 105.62v0M94.5 108.07v0M94.5 124.85v0M94.5 151.41v0M94.5 154.12v0M94.5 166.66v0M94.5 172.11v0M94.5 193.31v0M94.5 197.13v0M94.5 228.66v0M94.5 236.4v0M94.5 239.78v0M94.5 246.99v0M94.5 272.13v0M94.5 274.24v0M94.5 277.76v0M94.5 284.93v0M94.5 293.62v0M105.25 45.96v0M105.25 51.39v0M105.25 58.83v0M105.25 61.62v0M105.25 66.64v0M105.25 72.01v0M105.25 82.39v0M105.25 87.45v0M105.25 92.66v0M105.25 112.84v0M105.25 126.97v0M105.25 131.13v0M105.25 168.4v0M105.25 171.6v0M105.25 201.86v0M105.25 203.17v0M105.25 208.56v0M105.25 211.08v0M105.25 220.05v0M105.25 222.52v0M105.25 226.3v0M105.25 227.05v0M105.25 237.86v0M105.25 239.99v0M105.25 248.54v0M105.25 258.76v0M105.25 262.54v0M105.25 263.12v0M105.25 270.86v0M105.25 281.05v0M105.25 282.13v0M105.25 282.86v0M105.25 298.53v0M116 83.74v0M116 128.78v0M116 133.64v0M116 137.58v0M116 170.49v0M116 174.91v0M116 180.72v0M116 183.66v0M116 191.7v0M116 192.97v0M116 193.66v0M116 201.61v0M116 219.27v0M116 220.45v0M116 223.2v0M116 230.86v0M116 268.51v0M116 269.08v0M116 277.32v0M116 277.87v0M116 281.41v0M116 283.28v0M116 290.19v0M116 293.73v0M116 295.06v0M116 297.33v0M126.75 47.57v0M126.75 62.67v0M126.75 65.02v0M126.75 67.91v0M126.75 79.96v0M126.75 101.57v0M126.75 103.73v0M126.75 106.34v0M126.75 108.71v0M126.75 119.29v0M126.75 121.7v0M126.75 130.37v0M126.75 134.65v0M126.75 145.52v0M126.75 151.76v0M126.75 153.49v0M126.75 155.56v0M126.75 167.54v0M126.75 171.28v0M126.75 174.81v0M126.75 175.96v0M126.75 177.95v0M126.75 185.42v0M126.75 190.75v0M126.75 191.92v0M126.75 192.51v0M126.75 194.52v0M126.75 202.08v0M126.75 202.8v0M126.75 203.68v0M126.75 204.45v0M126.75 205.75v0M126.75 210.06v0M126.75 213.29v0M126.75 214.68v0M126.75 215.56v0M126.75 221.31v0M126.75 225.3v0M126.75 226.23v0M126.75 228.3v0M126.75 230.38v0M126.75 230.92v0M126.75 231.96v0M126.75 233.18v0M126.75 237.06v0M126.75 239.44v0M126.75 243.88v0M126.75 244.38v0M126.75 245.83v0M126.75 247.24v0M126.75 247.97v0M126.75 249.34v0M126.75 250.22v0M126.75 251.13v0M126.75 252.1v0M126.75 252.85v0M126.75 253.72v0M126.75 254.41v0M126.75 255.14v0M126.75 255.45v0M126.75 261.23v0M126.75 265.24v0M126.75 266.27v0M126.75 267.31v0M126.75 269.15v0M126.75 269.91v0M126.75 272.49v0M126.75 274.43v0M126.75 274.99v0M126.75 278.64v0M126.75 279.21v0M126.75 283.13v0M126.75 285.97v0M126.75 286.67v0M126.75 288.85v0M126.75 291.91v0M126.75 293.73v0M126.75 294.62v0M126.75 295.13v0M126.75 296.52v0M126.75 297.22v0M126.75 299.19v0M137.5 48.06v0M137.5 56.87v0M137.5 171.26v0M137.5 172.69v0M137.5 180.52v0M137.5 188.11v0M137.5 229.23v0M137.5 230.74v0M137.5 250.71v0M137.5 256.89v0M137.5 258.44v0M137.5 260.72v0M137.5 263.5v0M137.5 263.96v0M137.5 268.63v0M137.5 281.54v0M137.5 281.81v0M137.5 283v0M137.5 285.12v0M137.5 289.05v0M137.5 292.81v0M137.5 296.88v0M148.25 46.88v0M148.25 66.13v0M148.25 69.84v0M148.25 80.6v0M148.25 87.53v0M148.25 94.12v0M148.25 107.77v0M148.25 110.48v0M148.25 112.46v0M148.25 116.88v0M148.25 123.22v0M148.25 132.72v0M148.25 138.4v0M148.25 154.31v0M148.25 156.84v0M148.25 158.72v0M148.25 169.05v0M148.25 174.45v0M148.25 176.11v0M148.25 177.59v0M148.25 180.85v0M148.25 189.18v0M148.25 195.77v0M148.25 201.17v0M148.25 206.86v0M148.25 208.91v0M148.25 210.59v0M148.25 215.98v0M148.25 224.18v0M148.25 226.54v0M148.25 227.82v0M148.25 228.65v0M148.25 230.45v0M148.25 239.75v0M148.25 243.56v0M148.25 247.16v0M148.25 249.83v0M148.25 258.06v0M148.25 261.78v0M148.25 262.42v0M148.25 263.81v0M148.25 266.94v0M148.25 268.93v0M148.25 271.59v0M148.25 272.39v0M148.25 282.03v0M148.25 282.68v0M148.25 284.7v0M148.25 289.71v0M148.25 291.27v0M148.25 293.45v0M148.25 294.09v0M148.25 295v0M148.25 296.85v0M148.25 297.57v0M159 94.19v0M159 193.98v0M159 200.55v0M159 231.99v0M159 247.61v0M159 274.23v0M159 278.84v0M159 297.48v0M169.75 110.62v0M169.75 247.79v0M169.75 260.94v0M169.75 277.12v0M180.5 112.56v0M180.5 119.4v0M180.5 159.73v0M180.5 163.9v0M180.5 170.9v0M180.5 181.76v0M180.5 196.76v0M180.5 206.99v0M180.5 212.49v0M180.5 222.18v0M180.5 229.85v0M180.5 239.97v0M180.5 247.45v0M180.5 249.62v0M180.5 258.34v0M180.5 259.39v0M180.5 261.19v0M180.5 265.94v0M180.5 267.61v0M180.5 269.27v0M180.5 270.03v0M180.5 272.57v0M180.5 281.49v0M180.5 284.26v0M180.5 285.36v0M180.5 290.9v0M180.5 293.86v0M180.5 295.69v0M30 47.3v0" stroke="#4f9fc6" stroke-width="2.4" stroke-linecap="round" fill="none"/>
<path d="M180.5 59.6v0M180.5 67.3v0M180.5 78.8v0" stroke="#9a9a9a" stroke-width="2.4" stroke-linecap="round" fill="none"/>
<path d="M40.75 47.63v0M40.75 52.49v0M40.75 60.45v0M40.75 66.33v0M40.75 68.4v0M40.75 82.53v0M40.75 84.94v0M40.75 97.08v0M40.75 109.27v0M40.75 109.94v0M40.75 112.21v0M40.75 118.17v0M40.75 121.52v0M40.75 133.52v0M51.5 79.45v0M51.5 86.82v0M51.5 128.07v0M51.5 134.83v0M51.5 138.5v0M51.5 139.21v0M51.5 142.59v0M51.5 145.9v0M51.5 150.06v0M51.5 157.02v0M51.5 160.34v0M51.5 163.88v0M51.5 166.82v0M51.5 169v0M51.5 172.53v0M51.5 175.16v0M51.5 178.14v0M51.5 182.7v0M51.5 187.9v0M51.5 190.62v0M51.5 191.5v0M51.5 195.01v0M51.5 196.59v0M51.5 200.9v0M51.5 205.96v0M51.5 206.9v0M51.5 208.97v0M51.5 211.52v0M51.5 217.86v0M51.5 219.02v0M51.5 224.98v0M51.5 232.29v0M51.5 236.24v0M51.5 240.27v0M51.5 242.22v0M51.5 243.87v0M51.5 244.6v0M51.5 247.53v0M51.5 251.87v0M51.5 256.8v0M51.5 259.74v0M51.5 261.17v0M51.5 264.29v0M51.5 267.87v0M51.5 271.8v0M51.5 273.72v0M51.5 278.21v0M51.5 278.71v0M51.5 281.43v0M51.5 287.84v0M51.5 291.56v0M51.5 297.43v0M51.5 298.01v0M51.5 298.73v0M83.75 51.23v0M83.75 73.04v0M83.75 109.05v0M83.75 128.18v0M83.75 151.22v0M83.75 158.03v0M83.75 160.32v0M83.75 180.3v0M83.75 181.39v0M83.75 185.1v0M83.75 187.62v0M83.75 188.59v0M83.75 189.28v0M83.75 191.8v0M83.75 194v0M83.75 197.56v0M83.75 198.59v0M83.75 204.52v0M83.75 208.43v0M83.75 211.66v0M83.75 223.18v0M83.75 224.76v0M83.75 225.05v0M83.75 226.58v0M83.75 229.11v0M83.75 241.57v0M83.75 242.8v0M83.75 243.92v0M83.75 245.25v0M83.75 249.14v0M83.75 253.26v0M83.75 254.1v0M83.75 257.59v0M83.75 259.43v0M83.75 261.32v0M83.75 266.04v0M83.75 267.68v0M83.75 272.28v0M83.75 273.61v0M83.75 282.05v0M83.75 284.45v0M83.75 290.27v0M83.75 297.52v0M83.75 298.59v0M105.25 47.08v0M105.25 139.43v0M105.25 178.66v0M105.25 192.58v0M105.25 198.78v0M105.25 204.51v0M105.25 212.12v0M105.25 217.58v0M105.25 221.78v0M105.25 241.31v0M105.25 269.38v0M105.25 271.24v0M105.25 273.52v0M105.25 278.77v0M105.25 286.44v0M105.25 289.08v0M105.25 289.86v0M105.25 292.95v0M105.25 295.75v0M116 45.79v0M116 112v0M116 120.67v0M116 128.11v0M116 133.16v0M116 152.02v0M116 182.88v0M116 188.65v0M116 189.19v0M116 190.29v0M116 191.03v0M116 196.37v0M126.75 89.44v0M126.75 125.81v0M126.75 172.59v0M126.75 200.73v0M126.75 246.39v0M126.75 297.76v0M137.5 106.91v0M137.5 130.8v0M137.5 137.91v0M137.5 176.06v0M137.5 180.14v0M137.5 203.33v0M137.5 209.89v0M137.5 214.15v0M137.5 214.95v0M137.5 219v0M137.5 222.54v0M137.5 227.12v0M137.5 242.37v0M137.5 249.87v0M137.5 251.7v0M137.5 253.67v0M137.5 255.87v0M137.5 257.5v0M137.5 257.97v0M137.5 265.48v0M137.5 267.96v0M137.5 270.21v0M137.5 271.73v0M137.5 280.88v0M137.5 290.47v0M137.5 293.25v0M137.5 294.61v0M148.25 162.76v0M148.25 181.48v0M148.25 209.3v0M148.25 221v0M148.25 251.08v0M148.25 254.69v0M148.25 260.44v0M148.25 274.06v0M180.5 190.91v0M180.5 269v0" stroke="#9c4676" stroke-width="3.5" stroke-linecap="round" fill="none" stroke-opacity="0.92"/>
<path d="M40.75 46.57v0M40.75 57.73v0M40.75 74.35v0M40.75 102.68v0M40.75 126.62v0M40.75 134.23v0M40.75 134.81v0M40.75 136.3v0M40.75 137.15v0M40.75 137.56v0M40.75 138.4v0M40.75 141.59v0M40.75 143.72v0M40.75 148.64v0M40.75 149.49v0M40.75 158.1v0M40.75 159.48v0M40.75 160.61v0M40.75 172.18v0M40.75 173.03v0M40.75 178.21v0M40.75 178.99v0M40.75 183v0M40.75 184.35v0M40.75 185.09v0M40.75 187.69v0M40.75 189.43v0M40.75 194.66v0M40.75 195.54v0M40.75 197.45v0M40.75 198.06v0M40.75 200.49v0M40.75 202.12v0M40.75 203.44v0M40.75 204.85v0M40.75 205.86v0M40.75 207.57v0M40.75 210.62v0M40.75 213.51v0M40.75 215.4v0M40.75 217.7v0M40.75 219.06v0M40.75 223.7v0M40.75 225.8v0M40.75 226.25v0M40.75 228.85v0M40.75 230.04v0M40.75 231.9v0M40.75 232.85v0M40.75 234.37v0M40.75 235.3v0M40.75 236.71v0M40.75 237.13v0M40.75 237.57v0M40.75 239.17v0M40.75 239.91v0M40.75 240.3v0M40.75 241.16v0M40.75 242.46v0M40.75 242.78v0M40.75 245.1v0M40.75 246.31v0M40.75 247.57v0M40.75 249.6v0M40.75 251.32v0M40.75 251.72v0M40.75 253.98v0M40.75 255.89v0M40.75 256.68v0M40.75 258.36v0M40.75 259.3v0M40.75 259.92v0M40.75 260.65v0M40.75 261.43v0M40.75 262.7v0M40.75 264.68v0M40.75 265.5v0M40.75 267.5v0M40.75 270.44v0M40.75 272.48v0M40.75 275.73v0M40.75 277.55v0M40.75 278.05v0M40.75 279.58v0M40.75 280.71v0M40.75 282.84v0M40.75 284.89v0M40.75 285.59v0M40.75 287.67v0M40.75 288.57v0M40.75 290.83v0M40.75 291.25v0M40.75 293.35v0M40.75 294.06v0M40.75 295.79v0M40.75 296.85v0M40.75 298.3v0M40.75 299.51v0M51.5 67.62v0M51.5 88.2v0M51.5 127.14v0M51.5 133.3v0M51.5 160.81v0M51.5 226.62v0M51.5 231.55v0M51.5 245.12v0M51.5 246.58v0M51.5 254.36v0M51.5 255.53v0M51.5 258.71v0M51.5 268.89v0M51.5 270.41v0M51.5 270.93v0M51.5 275.45v0M51.5 279.88v0M51.5 286.69v0M51.5 288.21v0M51.5 290.23v0M51.5 292.61v0M51.5 295.49v0M62.25 46.67v0M62.25 49.03v0M62.25 51.64v0M62.25 52.41v0M62.25 58.75v0M62.25 61.51v0M62.25 64.27v0M62.25 67.84v0M62.25 68.3v0M62.25 70.48v0M62.25 71.38v0M62.25 74.12v0M62.25 75.34v0M62.25 80.8v0M62.25 84.35v0M62.25 84.98v0M62.25 86.23v0M62.25 91.42v0M62.25 93.44v0M62.25 95.3v0M62.25 96.29v0M62.25 97.45v0M62.25 98.38v0M62.25 102.44v0M62.25 105.45v0M62.25 106.28v0M62.25 106.7v0M62.25 109.41v0M62.25 111.42v0M62.25 115.45v0M62.25 120.42v0M62.25 120.98v0M62.25 121.36v0M62.25 123.47v0M62.25 124.4v0M62.25 125.4v0M62.25 126.26v0M62.25 128.57v0M62.25 128.94v0M62.25 131.97v0M62.25 133.54v0M62.25 134.04v0M62.25 136.86v0M62.25 138.23v0M62.25 138.9v0M62.25 139.62v0M62.25 140.15v0M62.25 143.14v0M62.25 144.96v0M62.25 146.03v0M62.25 146.72v0M62.25 148.06v0M62.25 148.79v0M62.25 151.31v0M62.25 152.25v0M62.25 155.73v0M62.25 156.33v0M62.25 157.83v0M62.25 158.46v0M62.25 159.03v0M62.25 160.33v0M62.25 160.95v0M62.25 161.42v0M62.25 162.38v0M62.25 164.53v0M62.25 166.17v0M62.25 167.11v0M62.25 169.63v0M62.25 171.18v0M62.25 172.62v0M62.25 173.95v0M62.25 174.58v0M62.25 176.81v0M62.25 178.46v0M62.25 179.2v0M62.25 180.11v0M62.25 181.52v0M62.25 182.48v0M62.25 184.02v0M62.25 185.47v0M62.25 186.46v0M62.25 187.55v0M62.25 187.97v0M62.25 189.59v0M62.25 190.41v0M62.25 191.85v0M62.25 192.28v0M62.25 192.63v0M62.25 192.92v0M62.25 194.36v0M62.25 194.89v0M62.25 195.84v0M62.25 196.57v0M62.25 198.27v0M62.25 199.07v0M62.25 200.18v0M62.25 200.96v0M62.25 201.37v0M62.25 202.04v0M62.25 203.4v0M62.25 203.98v0M62.25 205.08v0M62.25 205.42v0M62.25 207.37v0M62.25 207.65v0M62.25 208.17v0M62.25 208.68v0M62.25 209.11v0M62.25 209.56v0M62.25 211.17v0M62.25 212.81v0M62.25 214.05v0M62.25 214.79v0M62.25 215.32v0M62.25 216.13v0M62.25 216.55v0M62.25 217.44v0M62.25 218.36v0M62.25 219.01v0M62.25 219.37v0M62.25 219.67v0M62.25 220.46v0M62.25 221.78v0M62.25 222.55v0M62.25 223.03v0M62.25 223.94v0M62.25 224.75v0M62.25 225.34v0M62.25 226.4v0M62.25 227.72v0M62.25 228.04v0M62.25 228.5v0M62.25 229.62v0M62.25 230.62v0M62.25 231.85v0M62.25 232.32v0M62.25 233.84v0M62.25 234.48v0M62.25 235.38v0M62.25 236.07v0M62.25 237.14v0M62.25 238.04v0M62.25 239.75v0M62.25 240.47v0M62.25 242.06v0M62.25 243.12v0M62.25 244.28v0M62.25 244.64v0M62.25 244.92v0M62.25 245.25v0M62.25 247.28v0M62.25 248.3v0M62.25 249.36v0M62.25 249.92v0M62.25 250.26v0M62.25 250.96v0M62.25 252v0M62.25 252.64v0M62.25 254.15v0M62.25 254.49v0M62.25 255.44v0M62.25 256.38v0M62.25 257.52v0M62.25 258.19v0M62.25 259.99v0M62.25 260.87v0M62.25 262.48v0M62.25 263.07v0M62.25 264.4v0M62.25 265.34v0M62.25 265.79v0M62.25 267.3v0M62.25 268.89v0M62.25 269.77v0M62.25 270.56v0M62.25 271v0M62.25 272.16v0M62.25 272.8v0M62.25 273.11v0M62.25 273.49v0M62.25 273.9v0M62.25 274.69v0M62.25 275.43v0M62.25 276.87v0M62.25 278.26v0M62.25 278.71v0M62.25 279.03v0M62.25 279.74v0M62.25 280.07v0M62.25 280.45v0M62.25 281.31v0M62.25 282.38v0M62.25 283.24v0M62.25 283.55v0M62.25 284.57v0M62.25 284.97v0M62.25 286.06v0M62.25 286.62v0M62.25 287.36v0M62.25 287.76v0M62.25 288.96v0M62.25 289.66v0M62.25 291.48v0M62.25 292.06v0M62.25 293.03v0M62.25 293.36v0M62.25 293.76v0M62.25 294.41v0M62.25 294.84v0M62.25 295.3v0M62.25 295.8v0M62.25 296.33v0M62.25 297.83v0M62.25 298.27v0M62.25 298.74v0M62.25 299.17v0M73 45.86v0M73 49.45v0M73 54.31v0M73 58.79v0M73 65.72v0M73 66.47v0M73 77.16v0M73 77.61v0M73 79.06v0M73 80.37v0M73 80.7v0M73 84.22v0M73 92.69v0M73 97.96v0M73 100.8v0M73 104.85v0M73 106.24v0M73 107.01v0M73 107.41v0M73 110.12v0M73 112.57v0M73 113.39v0M73 116.41v0M73 119.2v0M73 125.21v0M73 126.97v0M73 128.59v0M73 129.99v0M73 131.72v0M73 134.64v0M73 136.04v0M73 137.67v0M73 138.4v0M73 143.33v0M73 146.17v0M73 147.16v0M73 148.28v0M73 150.48v0M73 151.49v0M73 152.19v0M73 153.25v0M73 154.18v0M73 158.83v0M73 161.18v0M73 162.66v0M73 164.14v0M73 164.96v0M73 166.08v0M73 167.85v0M73 168.32v0M73 168.77v0M73 169.58v0M73 170.23v0M73 172.54v0M73 176.22v0M73 178.9v0M73 182.39v0M73 185.12v0M73 187.58v0M73 188.76v0M73 189.78v0M73 190.65v0M73 191.91v0M73 192.73v0M73 194.91v0M73 195.94v0M73 196.32v0M73 197.61v0M73 198.82v0M73 199.68v0M73 200.9v0M73 201.83v0M73 205.52v0M73 207.23v0M73 208.2v0M73 211.74v0M73 212.91v0M73 213.48v0M73 214.32v0M73 214.68v0M73 215.44v0M73 216.2v0M73 217.87v0M73 219.14v0M73 220.36v0M73 221.3v0M73 221.75v0M73 224.48v0M73 226.72v0M73 227.56v0M73 228v0M73 228.83v0M73 229.21v0M73 230.67v0M73 231.44v0M73 233.1v0M73 233.99v0M73 234.75v0M73 235.3v0M73 236.58v0M73 237.46v0M73 237.94v0M73 238.6v0M73 240.22v0M73 240.91v0M73 241.9v0M73 242.43v0M73 243.3v0M73 243.93v0M73 246.82v0M73 248.22v0M73 248.7v0M73 249.39v0M73 250.97v0M73 251.85v0M73 253.45v0M73 254.28v0M73 254.67v0M73 255.15v0M73 256.05v0M73 259.62v0M73 261.27v0M73 262.19v0M73 262.84v0M73 264.29v0M73 264.64v0M73 265.37v0M73 266.11v0M73 267.93v0M73 269.59v0M73 272.34v0M73 272.69v0M73 273.05v0M73 273.47v0M73 275.47v0M73 275.89v0M73 277.83v0M73 278.82v0M73 280.19v0M73 281.94v0M73 283.14v0M73 284.33v0M73 285.15v0M73 285.89v0M73 287.49v0M73 289.29v0M73 289.79v0M73 292.32v0M73 292.86v0M73 293.87v0M73 294.33v0M73 295.02v0M73 296v0M73 297.02v0M73 298.45v0M73 299.41v0M83.75 101.37v0M83.75 147.15v0M83.75 174.27v0M83.75 177.83v0M83.75 201.52v0M83.75 209.45v0M83.75 217.35v0M83.75 219.25v0M83.75 221.06v0M83.75 230.05v0M83.75 245.71v0M83.75 247.37v0M83.75 263.77v0M83.75 266.6v0M83.75 269.51v0M83.75 275.59v0M83.75 276.87v0M83.75 277.82v0M83.75 278.16v0M83.75 279.42v0M83.75 281.02v0M83.75 285.55v0M83.75 287.88v0M83.75 291.5v0M83.75 293.08v0M83.75 293.74v0M83.75 298.02v0M94.5 45.7v0M94.5 69.08v0M94.5 78.83v0M94.5 86.95v0M94.5 89.56v0M94.5 102.25v0M94.5 109.97v0M94.5 114.33v0M94.5 120.87v0M94.5 126.87v0M94.5 129.25v0M94.5 133.27v0M94.5 137.05v0M94.5 138.27v0M94.5 144.39v0M94.5 148.65v0M94.5 151.68v0M94.5 155.09v0M94.5 156.81v0M94.5 159.22v0M94.5 160.66v0M94.5 161.75v0M94.5 165.63v0M94.5 168.41v0M94.5 169.27v0M94.5 173.3v0M94.5 173.99v0M94.5 174.63v0M94.5 176.62v0M94.5 178.08v0M94.5 179.7v0M94.5 182.52v0M94.5 183.45v0M94.5 184.28v0M94.5 185.05v0M94.5 186.18v0M94.5 186.73v0M94.5 187.54v0M94.5 189.71v0M94.5 191.12v0M94.5 192.11v0M94.5 193.93v0M94.5 195.08v0M94.5 195.55v0M94.5 198.57v0M94.5 199.92v0M94.5 201.31v0M94.5 203.43v0M94.5 203.81v0M94.5 206.63v0M94.5 207.36v0M94.5 209.98v0M94.5 212.06v0M94.5 212.47v0M94.5 214.08v0M94.5 215v0M94.5 215.78v0M94.5 217.12v0M94.5 217.97v0M94.5 219.37v0M94.5 220.63v0M94.5 221.02v0M94.5 222.06v0M94.5 222.84v0M94.5 224.94v0M94.5 226.06v0M94.5 227.14v0M94.5 229.78v0M94.5 231.59v0M94.5 232.23v0M94.5 234.72v0M94.5 237.83v0M94.5 238.48v0M94.5 240.44v0M94.5 242.91v0M94.5 243.25v0M94.5 243.87v0M94.5 244.88v0M94.5 246.52v0M94.5 247.58v0M94.5 248.64v0M94.5 249.66v0M94.5 250.8v0M94.5 251.45v0M94.5 252.04v0M94.5 253.3v0M94.5 253.66v0M94.5 254.26v0M94.5 254.64v0M94.5 255.75v0M94.5 256.67v0M94.5 257.08v0M94.5 258.22v0M94.5 259.59v0M94.5 261.98v0M94.5 262.44v0M94.5 262.86v0M94.5 263.28v0M94.5 264.24v0M94.5 264.74v0M94.5 265.16v0M94.5 266.03v0M94.5 267.78v0M94.5 268.29v0M94.5 268.98v0M94.5 269.95v0M94.5 271.6v0M94.5 272.43v0M94.5 274.51v0M94.5 275.22v0M94.5 276.63v0M94.5 277.26v0M94.5 278.43v0M94.5 279.54v0M94.5 281.64v0M94.5 282.98v0M94.5 286.11v0M94.5 287.11v0M94.5 288.76v0M94.5 289.29v0M94.5 289.77v0M94.5 290.59v0M94.5 291.91v0M94.5 293.96v0M94.5 294.59v0M94.5 295.4v0M94.5 296.44v0M94.5 296.93v0M94.5 297.99v0M94.5 298.54v0M105.25 97.64v0M105.25 155.51v0M105.25 159.17v0M105.25 197.16v0M105.25 206.54v0M105.25 219.45v0M105.25 230.77v0M105.25 236.09v0M105.25 249.92v0M105.25 254.77v0M105.25 264.97v0M105.25 265.84v0M105.25 267.08v0M105.25 274.37v0M105.25 278.38v0M105.25 285.94v0M116 87.61v0M116 88.98v0M116 114.35v0M116 132.63v0M116 141.97v0M116 148.88v0M116 153.76v0M116 160.64v0M116 161.36v0M116 167.56v0M116 173.51v0M116 181.79v0M116 189.52v0M116 197.99v0M116 205.67v0M116 208.59v0M116 211.68v0M116 212.94v0M116 214.49v0M116 220.09v0M116 226.13v0M116 228.34v0M116 230.06v0M116 231.16v0M116 232.53v0M116 235.48v0M116 237.93v0M116 239.77v0M116 242.16v0M116 243.23v0M116 244.65v0M116 245.5v0M116 246.02v0M116 248.25v0M116 248.75v0M116 252.73v0M116 253.38v0M116 255.31v0M116 255.94v0M116 257.78v0M116 258.74v0M116 259.47v0M116 260.44v0M116 261.07v0M116 262v0M116 263.78v0M116 264.12v0M116 265.22v0M116 265.71v0M116 266.37v0M116 266.78v0M116 267.19v0M116 269.62v0M116 270.66v0M116 272.33v0M116 273.96v0M116 275.04v0M116 275.7v0M116 278.26v0M116 279.27v0M116 282.18v0M116 284.21v0M116 284.84v0M116 285.48v0M116 286.43v0M116 286.75v0M116 288.21v0M116 289.53v0M116 290.66v0M116 292.03v0M116 292.69v0M116 295.67v0M116 296.04v0M116 296.35v0M116 299.39v0M126.75 132.33v0M126.75 178.76v0M126.75 222.63v0M126.75 241.89v0M126.75 281.26v0M126.75 287.17v0M126.75 288.04v0M137.5 148.01v0M137.5 165.3v0M137.5 182.43v0M137.5 193.94v0M137.5 208.25v0M137.5 216.19v0M137.5 236.33v0M137.5 238.25v0M137.5 248.55v0M137.5 254.88v0M137.5 262.16v0M137.5 269.55v0M137.5 274.86v0M137.5 276.65v0M137.5 283.96v0M137.5 285.91v0M137.5 289.84v0M137.5 291.08v0M137.5 293.79v0M137.5 296.02v0M148.25 68.24v0M148.25 237.96v0M148.25 269.52v0M148.25 281.43v0M148.25 286.38v0M148.25 288.33v0M159 45.74v0M159 50.57v0M159 65.27v0M159 70.76v0M159 85.62v0M159 87.95v0M159 89.81v0M159 97.15v0M159 99.61v0M159 103.37v0M159 110.39v0M159 115.61v0M159 123.27v0M159 125.77v0M159 135.97v0M159 138.94v0M159 145.98v0M159 153.11v0M159 155.59v0M159 162.73v0M159 164.35v0M159 169.53v0M159 171.26v0M159 171.79v0M159 176.59v0M159 178.04v0M159 184.98v0M159 186.99v0M159 191.81v0M159 194.89v0M159 196.58v0M159 198.71v0M159 202.24v0M159 204.11v0M159 205.87v0M159 209.64v0M159 210.04v0M159 211.43v0M159 214.24v0M159 214.7v0M159 217.56v0M159 218.61v0M159 220.16v0M159 222.8v0M159 227.66v0M159 232.43v0M159 235.07v0M159 237.2v0M159 237.83v0M159 239.45v0M159 241.13v0M159 242.46v0M159 243.55v0M159 245.37v0M159 246.56v0M159 248.64v0M159 250.47v0M159 251.85v0M159 253.18v0M159 255.62v0M159 256.47v0M159 257.29v0M159 259.71v0M159 260.46v0M159 262.92v0M159 263.53v0M159 265.04v0M159 265.64v0M159 266.23v0M159 267.83v0M159 269.5v0M159 273.17v0M159 277v0M159 279.55v0M159 279.87v0M159 283.54v0M159 283.89v0M159 284.35v0M159 284.99v0M159 289.46v0M159 292.02v0M159 293.87v0M159 296.19v0M159 298.21v0M159 299.01v0M169.75 48.46v0M169.75 58.35v0M169.75 78.54v0M169.75 84.88v0M169.75 102.17v0M169.75 116.01v0M169.75 118.99v0M169.75 122.82v0M169.75 127.85v0M169.75 147.11v0M169.75 155.63v0M169.75 158.95v0M169.75 168.28v0M169.75 177.06v0M169.75 178.46v0M169.75 180.25v0M169.75 184.13v0M169.75 190.36v0M169.75 195.82v0M169.75 196.59v0M169.75 201.9v0M169.75 204.61v0M169.75 209.79v0M169.75 213.52v0M169.75 219.67v0M169.75 229.24v0M169.75 230.71v0M169.75 231.47v0M169.75 233.12v0M169.75 239.22v0M169.75 240.8v0M169.75 245.98v0M169.75 246.44v0M169.75 249.49v0M169.75 253.73v0M169.75 254.56v0M169.75 256.05v0M169.75 257.7v0M169.75 259.7v0M169.75 261.25v0M169.75 261.89v0M169.75 264.78v0M169.75 266.98v0M169.75 268.25v0M169.75 269.24v0M169.75 270.13v0M169.75 271.7v0M169.75 274.2v0M169.75 275.33v0M169.75 275.89v0M169.75 277.92v0M169.75 279.04v0M169.75 280.31v0M169.75 281.56v0M169.75 282.18v0M169.75 282.97v0M169.75 283.34v0M169.75 284.26v0M169.75 284.7v0M169.75 285.61v0M169.75 286.69v0M169.75 287.45v0M169.75 288.15v0M169.75 288.96v0M169.75 289.37v0M169.75 291.15v0M169.75 291.59v0M169.75 294.06v0M169.75 294.75v0M169.75 296.48v0M169.75 298.47v0M180.5 273.42v0M30 56.3v0M30 72.8v0M30 93v0M30 123v0M30 157.7v0M30 159.2v0M30 162v0M30 163.5v0M30 194.6v0M30 217.7v0M30 219.2v0M30 244v0M30 245.5v0M30 267v0M30 287.3v0M30 298.8v0M30 300.3v0M191.25 134.8v0M191.25 159.8v0M191.25 186v0M191.25 267v0M202 132.8v0M202 269.6v0" stroke="#bb3462" stroke-width="3.5" stroke-linecap="round" fill="none" stroke-opacity="0.92"/>
</g>
<rect x="173" y="32" width="37.5" height="15.5" fill="#fff"/>
<circle cx="176.1" cy="36.7" r="0.9" fill="#a3a9b0"/>
<circle cx="175.9" cy="43.5" r="1.7" fill="none" stroke="#c78ba4" stroke-width="0.9"/>
<text x="180" y="38.7" font-size="5" textLength="27.1" lengthAdjust="spacingAndGlyphs" fill="#444" stroke="#444" stroke-width="0.2">GRADE 1/2</text>
<text x="180" y="45.6" font-size="5" textLength="27.1" lengthAdjust="spacingAndGlyphs" fill="#444" stroke="#444" stroke-width="0.2">GRADE 3/4</text>
<path d="M30 313.6V316.2M40.75 313.6V316.2M51.5 313.6V316.2M62.25 313.6V316.2M73 313.6V316.2M83.75 313.6V316.2M94.5 313.6V316.2M105.25 313.6V316.2M116 313.6V316.2M126.75 313.6V316.2M137.5 313.6V316.2M148.25 313.6V316.2M159 313.6V316.2M169.75 313.6V316.2M180.5 313.6V316.2M191.25 313.6V316.2M202 313.6V316.2" stroke="#333" stroke-width="0.8"/>
<text transform="translate(30 320.6) rotate(-90)" y="2.3" font-size="6.4" text-anchor="end" fill="#1a1a1a" stroke="#1a1a1a" stroke-width="0.24" textLength="12.67" lengthAdjust="spacingAndGlyphs">CRS</text>
<text transform="translate(40.75 320.6) rotate(-90)" y="2.3" font-size="6.4" text-anchor="end" fill="#1a1a1a" stroke="#1a1a1a" stroke-width="0.24" textLength="18.34" lengthAdjust="spacingAndGlyphs">ICANS</text>
<text transform="translate(51.5 320.6) rotate(-90)" y="2.3" font-size="6.4" text-anchor="end" fill="#1a1a1a" stroke="#1a1a1a" stroke-width="0.24" textLength="37.35" lengthAdjust="spacingAndGlyphs">Hyponatremia</text>
<text transform="translate(62.25 320.6) rotate(-90)" y="2.3" font-size="6.4" text-anchor="end" fill="#1a1a1a" stroke="#1a1a1a" stroke-width="0.24" textLength="32.69" lengthAdjust="spacingAndGlyphs">Neutropenia</text>
<text transform="translate(73 320.6) rotate(-90)" y="2.3" font-size="6.4" text-anchor="end" fill="#1a1a1a" stroke="#1a1a1a" stroke-width="0.24" textLength="49.69" lengthAdjust="spacingAndGlyphs">Thrombocytopenia</text>
<text transform="translate(83.75 320.6) rotate(-90)" y="2.3" font-size="6.4" text-anchor="end" fill="#1a1a1a" stroke="#1a1a1a" stroke-width="0.24" textLength="37.68" lengthAdjust="spacingAndGlyphs">Hypocalcemia</text>
<text transform="translate(94.5 320.6) rotate(-90)" y="2.3" font-size="6.4" text-anchor="end" fill="#1a1a1a" stroke="#1a1a1a" stroke-width="0.24" textLength="51.7" lengthAdjust="spacingAndGlyphs">Hypophosphatemia</text>
<text transform="translate(105.25 320.6) rotate(-90)" y="2.3" font-size="6.4" text-anchor="end" fill="#1a1a1a" stroke="#1a1a1a" stroke-width="0.24" textLength="24.23" lengthAdjust="spacingAndGlyphs">High ALT</text>
<text transform="translate(116 320.6) rotate(-90)" y="2.3" font-size="6.4" text-anchor="end" fill="#1a1a1a" stroke="#1a1a1a" stroke-width="0.24" textLength="34.68" lengthAdjust="spacingAndGlyphs">Hypokalemia</text>
<text transform="translate(126.75 320.6) rotate(-90)" y="2.3" font-size="6.4" text-anchor="end" fill="#1a1a1a" stroke="#1a1a1a" stroke-width="0.24" textLength="67.7" lengthAdjust="spacingAndGlyphs">Hypogammaglobulinemia</text>
<text transform="translate(137.5 320.6) rotate(-90)" y="2.3" font-size="6.4" text-anchor="end" fill="#1a1a1a" stroke="#1a1a1a" stroke-width="0.24" textLength="25.34" lengthAdjust="spacingAndGlyphs">High AST</text>
<text transform="translate(148.25 320.6) rotate(-90)" y="2.3" font-size="6.4" text-anchor="end" fill="#1a1a1a" stroke="#1a1a1a" stroke-width="0.24" textLength="48.02" lengthAdjust="spacingAndGlyphs">Hypoalbuminemia</text>
<text transform="translate(159 320.6) rotate(-90)" y="2.3" font-size="6.4" text-anchor="end" fill="#1a1a1a" stroke="#1a1a1a" stroke-width="0.24" textLength="31.03" lengthAdjust="spacingAndGlyphs">Leukopenia</text>
<text transform="translate(169.75 320.6) rotate(-90)" y="2.3" font-size="6.4" text-anchor="end" fill="#1a1a1a" stroke="#1a1a1a" stroke-width="0.24" textLength="20.34" lengthAdjust="spacingAndGlyphs">Anemia</text>
<text transform="translate(180.5 320.6) rotate(-90)" y="2.3" font-size="6.4" text-anchor="end" fill="#1a1a1a" stroke="#1a1a1a" stroke-width="0.24" textLength="49.69" lengthAdjust="spacingAndGlyphs">Hyperbilirubinemia</text>
<text transform="translate(191.25 320.6) rotate(-90)" y="2.3" font-size="6.4" text-anchor="end" fill="#1a1a1a" stroke="#1a1a1a" stroke-width="0.24" textLength="38.68" lengthAdjust="spacingAndGlyphs">Hyperuricemia</text>
<text transform="translate(202 320.6) rotate(-90)" y="2.3" font-size="6.4" text-anchor="end" fill="#1a1a1a" stroke="#1a1a1a" stroke-width="0.24" textLength="35.8" lengthAdjust="spacingAndGlyphs">Lymphopenia</text>
<text x="112.9" y="397.7" font-size="8.6" font-weight="bold" textLength="6.8" lengthAdjust="spacingAndGlyphs" fill="#222" stroke="#222" stroke-width="0.2">AE</text>
<text transform="translate(13.25 208.3) rotate(-90)" font-size="7.4" font-weight="bold" textLength="72.6" lengthAdjust="spacingAndGlyphs" fill="#111" stroke="#111" stroke-width="0.4">416 patients receiving axi-cel</text>
<rect x="225.2" y="31.2" width="27" height="282.4" fill="#fff" stroke="#2a2a2a" stroke-width="1.1"/>
<rect x="225.8" y="44.1" width="25.8" height="256.9" fill="#f0f0f0"/>
<path d="M235 44.1V301M245.3 44.1V301" stroke="#fafafa" stroke-width="0.8"/>
<rect x="222.1" y="44.1" width="2.8" height="256.6" fill="url(#tickpat2)"/>
<path d="M225.8 44.1H226.7V49H225.8ZM225.8 49H228.4V64H225.8ZM225.8 64H230.3V79H225.8ZM225.8 79H231.8V88H225.8ZM225.8 88H232.9V119H225.8ZM225.8 119H234.8V157H225.8ZM225.8 157H236.9V185H225.8ZM225.8 185H239.7V216H225.8ZM225.8 216H241.8V240H225.8ZM225.8 240H243V265H225.8ZM225.8 265H244.5V287H225.8ZM225.8 287H246.1V293H225.8ZM225.8 293H248V297H225.8ZM225.8 297H249.5V301H225.8Z" fill="url(#histpat)"/>
<path d="M224.8 313.6V316.2M245.3 313.6V316.2" stroke="#333" stroke-width="0.8"/>
<text x="225" y="325.5" font-size="6.2" text-anchor="middle" fill="#333" stroke="#333" stroke-width="0.2">0</text>
<text x="245.4" y="325.5" font-size="6.2" text-anchor="middle" fill="#333" stroke="#333" stroke-width="0.2">10</text>
<text x="227.3" y="336.5" font-size="7.2" font-weight="bold" textLength="23.5" lengthAdjust="spacingAndGlyphs" fill="#222" stroke="#222" stroke-width="0.2">No. of AE</text>
<circle cx="388.6" cy="117.3" r="17.9" fill="none" stroke="#ababab" stroke-width="0.9"/>
<circle cx="388.6" cy="117.3" r="35.8" fill="none" stroke="#ababab" stroke-width="0.9"/>
<circle cx="388.6" cy="117.3" r="53.7" fill="none" stroke="#ababab" stroke-width="0.9"/>
<circle cx="388.6" cy="117.3" r="71.6" fill="none" stroke="#ababab" stroke-width="0.9"/>
<path d="M388.6 117.3L401.65 46.9M388.6 117.3L430.53 59.26M388.6 117.3L451.34 82.81M388.6 117.3L460.07 112.99M388.6 117.3L455.03 144.01M388.6 117.3L437.2 169.88M388.6 117.3L410.01 185.62M388.6 117.3L378.7 188.21M388.6 117.3L349.29 177.14M388.6 117.3L327.45 154.55M388.6 117.3L317.39 124.78M388.6 117.3L321.04 93.58M388.6 117.3L337.71 66.94M388.6 117.3L364.17 50" stroke="#7a7a7a" stroke-width="0.7" stroke-dasharray="2 1.2" fill="none"/>
<path d="M388.6 117.3L392.12 109.07A8.95 8.95 0 0 1 395.31 111.37Z" fill="#6c3e80" stroke="#3a0a20" stroke-width="0.35" stroke-opacity="0.5"/>
<path d="M388.6 117.3L399.23 107.91A14.19 14.19 0 0 1 402.23 113.36Z" fill="#d22448" stroke="#3a0a20" stroke-width="0.35" stroke-opacity="0.5"/>
<path d="M388.6 117.3L402.23 113.36A14.19 14.19 0 0 1 402.6 119.57Z" fill="#d22448" stroke="#3a0a20" stroke-width="0.35" stroke-opacity="0.5"/>
<path d="M388.6 117.3L406.27 120.17A17.9 17.9 0 0 1 403.34 127.46Z" fill="#e0288a" stroke="#3a0a20" stroke-width="0.35" stroke-opacity="0.5"/>
<path d="M388.6 117.3L409.29 131.56A25.13 25.13 0 0 1 401.19 139.04Z" fill="#e0288a" stroke="#3a0a20" stroke-width="0.35" stroke-opacity="0.5"/>
<path d="M388.6 117.3L405.68 146.79A34.08 34.08 0 0 1 391.41 151.26Z" fill="#6c3e80" stroke="#3a0a20" stroke-width="0.35" stroke-opacity="0.5"/>
<path d="M388.6 117.3L391.55 152.98A35.8 35.8 0 0 1 375.99 150.81Z" fill="#f59e1c" stroke="#3a0a20" stroke-width="0.35" stroke-opacity="0.5"/>
<path d="M388.6 117.3L375.99 150.81A35.8 35.8 0 0 1 362.86 142.18Z" fill="#6c3e80" stroke="#3a0a20" stroke-width="0.35" stroke-opacity="0.5"/>
<path d="M388.6 117.3L364.76 144.01A35.8 35.8 0 0 1 362.86 142.18Z" fill="#e0288a" stroke="#3a0a20" stroke-width="0.3" stroke-opacity="0.35"/>
<path d="M388.6 117.3L361.76 143.24A37.32 37.32 0 0 1 353.24 129.25Z" fill="#e0288a" stroke="#3a0a20" stroke-width="0.35" stroke-opacity="0.5"/>
<path d="M388.6 117.3L356.73 136.72A37.32 37.32 0 0 1 355.38 134.32Z" fill="#d22448" stroke="#3a0a20" stroke-width="0.3" stroke-opacity="0.35"/>
<path d="M388.6 117.3L351.96 129.69A38.68 38.68 0 0 1 350.18 112.8Z" fill="#d22448" stroke="#3a0a20" stroke-width="0.35" stroke-opacity="0.5"/>
<path d="M388.6 117.3L351.96 129.69A38.68 38.68 0 0 1 351.14 126.95Z" fill="#e0288a" stroke="#3a0a20" stroke-width="0.3" stroke-opacity="0.35"/>
<path d="M388.6 117.3L350.53 124.17A38.68 38.68 0 0 1 350.13 121.34Z" fill="#e0288a" stroke="#3a0a20" stroke-width="0.3" stroke-opacity="0.35"/>
<path d="M388.6 117.3L349.94 118.5A38.68 38.68 0 0 1 349.95 115.65Z" fill="#6c3e80" stroke="#3a0a20" stroke-width="0.3" stroke-opacity="0.35"/>
<path d="M388.6 117.3L350.18 112.8A38.68 38.68 0 0 1 355.81 96.79Z" fill="#6c3e80" stroke="#3a0a20" stroke-width="0.35" stroke-opacity="0.5"/>
<path d="M388.6 117.3L350.62 109.99A38.68 38.68 0 0 1 351.26 107.21Z" fill="#d22448" stroke="#3a0a20" stroke-width="0.3" stroke-opacity="0.35"/>
<path d="M388.6 117.3L354.38 99.26A38.68 38.68 0 0 1 355.81 96.79Z" fill="#d22448" stroke="#3a0a20" stroke-width="0.3" stroke-opacity="0.35"/>
<path d="M388.6 117.3L345.35 90.25A51.02 51.02 0 0 1 361.09 74.33Z" fill="#d22448" stroke="#3a0a20" stroke-width="0.35" stroke-opacity="0.5"/>
<path d="M388.6 117.3L345.35 90.25A51.02 51.02 0 0 1 347.46 87.13Z" fill="#c41c40" stroke="#3a0a20" stroke-width="0.3" stroke-opacity="0.35"/>
<path d="M388.6 117.3L358 76.47A51.02 51.02 0 0 1 361.09 74.33Z" fill="#d8305e" stroke="#3a0a20" stroke-width="0.3" stroke-opacity="0.35"/>
<path d="M388.6 117.3L353.54 62.52A65.04 65.04 0 0 1 380.36 52.79Z" fill="#e0288a" stroke="#3a0a20" stroke-width="0.35" stroke-opacity="0.5"/>
<path d="M388.6 117.3L401.65 46.9M388.6 117.3L430.53 59.26M388.6 117.3L451.34 82.81M388.6 117.3L460.07 112.99M388.6 117.3L455.03 144.01M388.6 117.3L437.2 169.88M388.6 117.3L410.01 185.62M388.6 117.3L378.7 188.21M388.6 117.3L349.29 177.14M388.6 117.3L327.45 154.55M388.6 117.3L317.39 124.78M388.6 117.3L321.04 93.58M388.6 117.3L337.71 66.94M388.6 117.3L364.17 50" stroke="#000" stroke-opacity="0.16" stroke-width="0.7" stroke-dasharray="2 1.2" fill="none"/>
<path d="M388.6 117.3v0M393.84 110.05v0M401.03 110.47v0M402.76 116.45v0M405.21 123.98v0M405.66 135.75v0M398.79 149.82v0M383.65 152.76v0M368.94 147.22v0M356.73 136.72v0M350.13 121.34v0M352.1 104.48v0M352.34 81.41v0M366.41 56.17v0" stroke="#1a1a1a" stroke-width="1.5" stroke-linecap="round" fill="none"/>
<text transform="translate(374.25 79.8) rotate(69)" font-size="6.5" fill="#fff" stroke="#fff" stroke-width="0.2" text-anchor="middle" y="2.2" textLength="39" lengthAdjust="spacingAndGlyphs">Duration of AE</text>
<text x="388.25" y="23.65" font-size="6.3" textLength="33.75" lengthAdjust="spacingAndGlyphs" fill="#161616" stroke="#161616" stroke-width="0.2">Hypokalemia</text>
<text x="420.75" y="46.9" font-size="6.3" textLength="38.75" lengthAdjust="spacingAndGlyphs" fill="#161616" stroke="#161616" stroke-width="0.2">Hyperuricemia</text>
<text x="451.25" y="74.4" font-size="6.3" textLength="52" lengthAdjust="spacingAndGlyphs" fill="#161616" stroke="#161616" stroke-width="0.2">Hypophosphatemia</text>
<text x="464.25" y="113.9" font-size="6.3" textLength="25.75" lengthAdjust="spacingAndGlyphs" fill="#161616" stroke="#161616" stroke-width="0.2">High AST</text>
<text x="456.7" y="152.9" font-size="6.3" textLength="36.6" lengthAdjust="spacingAndGlyphs" fill="#161616" stroke="#161616" stroke-width="0.2">Hyponatremia</text>
<text x="431.25" y="183.65" font-size="6.3" textLength="37.5" lengthAdjust="spacingAndGlyphs" fill="#161616" stroke="#161616" stroke-width="0.2">Hypocalcemia</text>
<text x="405" y="199.4" font-size="6.3" textLength="34.5" lengthAdjust="spacingAndGlyphs" fill="#161616" stroke="#161616" stroke-width="0.2">Lymphopenia</text>
<text x="361.25" y="201.7" font-size="6.3" textLength="32.5" lengthAdjust="spacingAndGlyphs" fill="#161616" stroke="#161616" stroke-width="0.2">Neutropenia</text>
<text x="314.5" y="191.4" font-size="6.3" textLength="49.25" lengthAdjust="spacingAndGlyphs" fill="#161616" stroke="#161616" stroke-width="0.2">Hyperbilirubinemia</text>
<text x="301.25" y="163.15" font-size="6.3" textLength="24.25" lengthAdjust="spacingAndGlyphs" fill="#161616" stroke="#161616" stroke-width="0.2">High ALT</text>
<text x="283" y="129.4" font-size="6.3" textLength="30.75" lengthAdjust="spacingAndGlyphs" fill="#161616" stroke="#161616" stroke-width="0.2">Leukopenia</text>
<text x="271.25" y="90.15" font-size="6.3" textLength="46.75" lengthAdjust="spacingAndGlyphs" fill="#161616" stroke="#161616" stroke-width="0.2">Hypoalbuminemia</text>
<text x="290" y="59.9" font-size="6.3" textLength="49.5" lengthAdjust="spacingAndGlyphs" fill="#161616" stroke="#161616" stroke-width="0.2">Thrombocytopenia</text>
<text x="347.5" y="36.9" font-size="6.3" textLength="20" lengthAdjust="spacingAndGlyphs" fill="#161616" stroke="#161616" stroke-width="0.2">Anemia</text>
<text x="365.4" y="46.7" font-size="6.3" text-anchor="middle" fill="#161616" stroke="#161616" stroke-width="0.2">154</text>
<text x="347.5" y="75.2" font-size="6.3" text-anchor="middle" fill="#161616" stroke="#161616" stroke-width="0.2">52</text>
<text x="345.75" y="102.2" font-size="6.3" text-anchor="middle" fill="#161616" stroke="#161616" stroke-width="0.2">20</text>
<text x="343.25" y="122.7" font-size="6.3" text-anchor="middle" fill="#161616" stroke="#161616" stroke-width="0.2">20</text>
<text x="350" y="139.7" font-size="6.3" text-anchor="middle" fill="#161616" stroke="#161616" stroke-width="0.2">18</text>
<text x="366.5" y="156.95" font-size="6.3" text-anchor="middle" fill="#161616" stroke="#161616" stroke-width="0.2">16</text>
<text x="386.3" y="163.45" font-size="6.3" text-anchor="middle" fill="#161616" stroke="#161616" stroke-width="0.2">16</text>
<text x="405.1" y="158.95" font-size="6.3" text-anchor="middle" fill="#161616" stroke="#161616" stroke-width="0.2">14</text>
<text x="413.75" y="142.7" font-size="6.3" text-anchor="middle" fill="#161616" stroke="#161616" stroke-width="0.2">7</text>
<text x="415.5" y="127.7" font-size="6.3" text-anchor="middle" fill="#161616" stroke="#161616" stroke-width="0.2">4</text>
<text x="413.5" y="116.2" font-size="6.3" text-anchor="middle" fill="#161616" stroke="#161616" stroke-width="0.2">3</text>
<text x="410.5" y="105.2" font-size="6.3" text-anchor="middle" fill="#161616" stroke="#161616" stroke-width="0.2">3</text>
<text x="401.25" y="99.2" font-size="6.3" text-anchor="middle" fill="#161616" stroke="#161616" stroke-width="0.2">2</text>
<text x="391.25" y="107.95" font-size="6.3" text-anchor="middle" fill="#161616" stroke="#161616" stroke-width="0.2">1</text>
<text x="390" y="34.5" font-size="6.3" textLength="11.25" lengthAdjust="spacingAndGlyphs" fill="#161616" stroke="#161616" stroke-width="0.2">256</text>
<text x="387.5" y="42" font-size="6.3" textLength="16.25" lengthAdjust="spacingAndGlyphs" fill="#161616" stroke="#161616" stroke-width="0.2">(days)</text>
<text x="393.25" y="62.2" font-size="6.3" text-anchor="middle" fill="#161616" stroke="#161616" stroke-width="0.2">64</text>
<text x="391.6" y="80.2" font-size="6.3" text-anchor="middle" fill="#161616" stroke="#161616" stroke-width="0.2">16</text>
<text x="390.4" y="98.45" font-size="6.3" text-anchor="middle" fill="#161616" stroke="#161616" stroke-width="0.2">4</text>
<text x="353.7" y="13.75" font-size="8" textLength="70" lengthAdjust="spacingAndGlyphs" fill="#151515" stroke="#151515" stroke-width="0.36">Mild AE (grade 1-2)</text>
<text x="270.8" y="15.8" font-size="10.8" font-weight="bold" fill="#111" stroke="#111" stroke-width="0.2">B</text>
<rect x="320" y="211.2" width="33.38" height="3.8" fill="#6c3e80"/>
<rect x="353.32" y="211.2" width="33.38" height="3.8" fill="#e0288a"/>
<rect x="386.65" y="211.2" width="33.38" height="3.8" fill="#d22448"/>
<rect x="419.98" y="211.2" width="33.38" height="3.8" fill="#f59e1c"/>
<rect x="320" y="211.2" width="133.3" height="3.8" fill="none" stroke="#2a0a1a" stroke-width="0.9"/>
<path d="M320 215v2.0M353.32 215v2.0M386.65 215v2.0M419.98 215v2.0M453.3 215v2.0" stroke="#222" stroke-width="0.8"/>
<text x="320" y="226.2" font-size="6.3" text-anchor="middle" fill="#161616" stroke="#161616" stroke-width="0.2">0</text>
<text x="353.32" y="226.2" font-size="6.3" text-anchor="middle" fill="#161616" stroke="#161616" stroke-width="0.2">25</text>
<text x="386.65" y="226.2" font-size="6.3" text-anchor="middle" fill="#161616" stroke="#161616" stroke-width="0.2">50</text>
<text x="419.98" y="226.2" font-size="6.3" text-anchor="middle" fill="#161616" stroke="#161616" stroke-width="0.2">75</text>
<text x="453.3" y="226.2" font-size="6.3" text-anchor="middle" fill="#161616" stroke="#161616" stroke-width="0.2">100</text>
<text x="362.1" y="236.4" font-size="6.3" textLength="50" lengthAdjust="spacingAndGlyphs" fill="#161616" stroke="#161616" stroke-width="0.2">Percent of patients</text>
<circle cx="389.1" cy="355.1" r="23.63" fill="none" stroke="#ababab" stroke-width="0.9"/>
<circle cx="389.1" cy="355.1" r="47.27" fill="none" stroke="#ababab" stroke-width="0.9"/>
<circle cx="389.1" cy="355.1" r="70.9" fill="none" stroke="#ababab" stroke-width="0.9"/>
<path d="M389.1 355.1L403.48 285.67M389.1 355.1L433.69 299.98M389.1 355.1L453.99 326.53M389.1 355.1L459.87 359.44M389.1 355.1L450.01 391.38M389.1 355.1L426.62 415.26M389.1 355.1L394.88 425.76M389.1 355.1L361.86 420.56M389.1 355.1L334.9 400.81M389.1 355.1L319.98 370.89M389.1 355.1L320.43 337.47M389.1 355.1L336.14 307.96M389.1 355.1L363.62 288.94" stroke="#7a7a7a" stroke-width="0.7" stroke-dasharray="2 1.2" fill="none"/>
<path d="M389.1 355.1L398.49 347.92A11.81 11.81 0 0 1 400.73 353.02Z" fill="#e0288a" stroke="#3a0a20" stroke-width="0.35" stroke-opacity="0.5"/>
<path d="M389.1 355.1L400.73 353.02A11.81 11.81 0 0 1 400.39 358.58Z" fill="#e0288a" stroke="#3a0a20" stroke-width="0.35" stroke-opacity="0.5"/>
<path d="M389.1 355.1L400.39 358.58A11.81 11.81 0 0 1 397.54 363.37Z" fill="#e0288a" stroke="#3a0a20" stroke-width="0.35" stroke-opacity="0.5"/>
<path d="M389.1 355.1L405.98 371.64A23.63 23.63 0 0 1 396.53 377.53Z" fill="#f59e1c" stroke="#3a0a20" stroke-width="0.35" stroke-opacity="0.5"/>
<path d="M389.1 355.1L397.72 381.14A27.43 27.43 0 0 1 384.83 382.2Z" fill="#e0288a" stroke="#3a0a20" stroke-width="0.35" stroke-opacity="0.5"/>
<path d="M389.1 355.1L383.27 392.1A37.45 37.45 0 0 1 366.97 385.31Z" fill="#d22448" stroke="#3a0a20" stroke-width="0.35" stroke-opacity="0.5"/>
<path d="M389.1 355.1L358.43 396.96A51.9 51.9 0 0 1 342.66 378.26Z" fill="#6c3e80" stroke="#3a0a20" stroke-width="0.35" stroke-opacity="0.5"/>
<path d="M389.1 355.1L338.27 380.45A56.8 56.8 0 0 1 332.31 354.34Z" fill="#6c3e80" stroke="#3a0a20" stroke-width="0.35" stroke-opacity="0.5"/>
<path d="M389.1 355.1L331.13 354.33A57.97 57.97 0 0 1 337.93 327.85Z" fill="#e0288a" stroke="#3a0a20" stroke-width="0.35" stroke-opacity="0.5"/>
<path d="M389.1 355.1L333.23 325.35A63.3 63.3 0 0 1 353.07 303.06Z" fill="#6c3e80" stroke="#3a0a20" stroke-width="0.35" stroke-opacity="0.5"/>
<path d="M389.1 355.1L348.16 295.97A71.92 71.92 0 0 1 379.81 283.78Z" fill="#d22448" stroke="#3a0a20" stroke-width="0.35" stroke-opacity="0.5"/>
<path d="M389.1 355.1L403.48 285.67M389.1 355.1L433.69 299.98M389.1 355.1L453.99 326.53M389.1 355.1L459.87 359.44M389.1 355.1L450.01 391.38M389.1 355.1L426.62 415.26M389.1 355.1L394.88 425.76M389.1 355.1L361.86 420.56M389.1 355.1L334.9 400.81M389.1 355.1L319.98 370.89M389.1 355.1L320.43 337.47M389.1 355.1L336.14 307.96M389.1 355.1L363.62 288.94" stroke="#000" stroke-opacity="0.16" stroke-width="0.7" stroke-dasharray="2 1.2" fill="none"/>
<path d="M389.1 355.1v0M389.1 355.1v0M399.91 350.34v0M400.89 355.82v0M399.25 361.15v0M401.6 375.15v0M391.34 382.44v0M374.71 389.68v0M349.43 388.55v0M333.73 367.75v0M332.95 340.68v0M341.82 313.02v0M363.25 287.98v0" stroke="#1a1a1a" stroke-width="1.5" stroke-linecap="round" fill="none"/>
<text transform="translate(373.9 316.6) rotate(69.3)" font-size="6.5" fill="#fff" stroke="#fff" stroke-width="0.2" text-anchor="middle" y="2.2" textLength="39" lengthAdjust="spacingAndGlyphs">Duration of AE</text>
<text x="386.25" y="270.15" font-size="6.3" textLength="36.75" lengthAdjust="spacingAndGlyphs" fill="#161616" stroke="#161616" stroke-width="0.2">Hyponatremia</text>
<text x="427.5" y="289.9" font-size="6.3" textLength="33.75" lengthAdjust="spacingAndGlyphs" fill="#161616" stroke="#161616" stroke-width="0.2">Hypokalemia</text>
<text x="451.25" y="313.9" font-size="6.3" textLength="52" lengthAdjust="spacingAndGlyphs" fill="#161616" stroke="#161616" stroke-width="0.2">Hypophosphatemia</text>
<text x="463.75" y="361.9" font-size="6.3" textLength="49.75" lengthAdjust="spacingAndGlyphs" fill="#161616" stroke="#161616" stroke-width="0.2">Hyperbilirubinemia</text>
<text x="450.75" y="403.9" font-size="6.3" textLength="25.5" lengthAdjust="spacingAndGlyphs" fill="#161616" stroke="#161616" stroke-width="0.2">High AST</text>
<text x="416.25" y="430.65" font-size="6.3" textLength="37" lengthAdjust="spacingAndGlyphs" fill="#161616" stroke="#161616" stroke-width="0.2">Hypocalcemia</text>
<text x="369" y="441.1" font-size="6.3" textLength="47.25" lengthAdjust="spacingAndGlyphs" fill="#161616" stroke="#161616" stroke-width="0.2">Hypoalbuminemia</text>
<text x="338" y="432.5" font-size="6.3" textLength="24.9" lengthAdjust="spacingAndGlyphs" fill="#161616" stroke="#161616" stroke-width="0.2">High ALT</text>
<text x="309.8" y="409.1" font-size="6.3" textLength="19.7" lengthAdjust="spacingAndGlyphs" fill="#161616" stroke="#161616" stroke-width="0.2">Anemia</text>
<text x="281.5" y="375.9" font-size="6.3" textLength="33.7" lengthAdjust="spacingAndGlyphs" fill="#161616" stroke="#161616" stroke-width="0.2">Neutropenia</text>
<text x="267.5" y="332.65" font-size="6.3" textLength="49.5" lengthAdjust="spacingAndGlyphs" fill="#161616" stroke="#161616" stroke-width="0.2">Thrombocytopenia</text>
<text x="304.25" y="297.4" font-size="6.3" textLength="30.25" lengthAdjust="spacingAndGlyphs" fill="#161616" stroke="#161616" stroke-width="0.2">Leukopenia</text>
<text x="307.5" y="274.4" font-size="6.3" textLength="67" lengthAdjust="spacingAndGlyphs" fill="#161616" stroke="#161616" stroke-width="0.2">Hypogammaglobulinemia</text>
<text x="362.5" y="283.45" font-size="6.3" text-anchor="middle" fill="#161616" stroke="#161616" stroke-width="0.2">68</text>
<text x="340.5" y="309.7" font-size="6.3" text-anchor="middle" fill="#161616" stroke="#161616" stroke-width="0.2">41</text>
<text x="325.6" y="337.95" font-size="6.3" text-anchor="middle" fill="#161616" stroke="#161616" stroke-width="0.2">30</text>
<text x="326.6" y="369" font-size="6.3" text-anchor="middle" fill="#161616" stroke="#161616" stroke-width="0.2">28</text>
<text x="341.8" y="391.6" font-size="6.3" text-anchor="middle" fill="#161616" stroke="#161616" stroke-width="0.2">21</text>
<text x="375" y="398.3" font-size="6.3" text-anchor="middle" fill="#161616" stroke="#161616" stroke-width="0.2">9</text>
<text x="394" y="390.4" font-size="6.3" text-anchor="middle" fill="#161616" stroke="#161616" stroke-width="0.2">5</text>
<text x="407" y="380.95" font-size="6.3" text-anchor="middle" fill="#161616" stroke="#161616" stroke-width="0.2">4</text>
<text x="405" y="348.45" font-size="6.3" text-anchor="middle" fill="#161616" stroke="#161616" stroke-width="0.2">2</text>
<text x="408.75" y="355.95" font-size="6.3" text-anchor="middle" fill="#161616" stroke="#161616" stroke-width="0.2">2</text>
<text x="406.25" y="363.45" font-size="6.3" text-anchor="middle" fill="#161616" stroke="#161616" stroke-width="0.2">2</text>
<text x="391.9" y="348.6" font-size="6.3" text-anchor="middle" fill="#161616" stroke="#161616" stroke-width="0.2">1</text>
<text x="379.25" y="280.25" font-size="6.3" textLength="24.5" lengthAdjust="spacingAndGlyphs" fill="#161616" stroke="#161616" stroke-width="0.2">64 (days)</text>
<text x="389.75" y="306.2" font-size="6.3" text-anchor="middle" fill="#161616" stroke="#161616" stroke-width="0.2">16</text>
<text x="387.75" y="329.2" font-size="6.3" text-anchor="middle" fill="#161616" stroke="#161616" stroke-width="0.2">4</text>
<text x="337.5" y="260" font-size="8" textLength="102.5" lengthAdjust="spacingAndGlyphs" fill="#151515" stroke="#151515" stroke-width="0.36">Severe AE (grade 3 or more)</text>
<text x="267.2" y="262.4" font-size="10.8" font-weight="bold" fill="#111" stroke="#111" stroke-width="0.2">C</text>
<rect x="320" y="450.4" width="33.38" height="3.8" fill="#6c3e80"/>
<rect x="353.32" y="450.4" width="33.38" height="3.8" fill="#e0288a"/>
<rect x="386.65" y="450.4" width="33.38" height="3.8" fill="#d22448"/>
<rect x="419.98" y="450.4" width="33.38" height="3.8" fill="#f59e1c"/>
<rect x="320" y="450.4" width="133.3" height="3.8" fill="none" stroke="#2a0a1a" stroke-width="0.9"/>
<path d="M320 454.2v2.0M353.32 454.2v2.0M386.65 454.2v2.0M419.98 454.2v2.0M453.3 454.2v2.0" stroke="#222" stroke-width="0.8"/>
<text x="320" y="465.4" font-size="6.3" text-anchor="middle" fill="#161616" stroke="#161616" stroke-width="0.2">0</text>
<text x="353.32" y="465.4" font-size="6.3" text-anchor="middle" fill="#161616" stroke="#161616" stroke-width="0.2">25</text>
<text x="386.65" y="465.4" font-size="6.3" text-anchor="middle" fill="#161616" stroke="#161616" stroke-width="0.2">50</text>
<text x="419.98" y="465.4" font-size="6.3" text-anchor="middle" fill="#161616" stroke="#161616" stroke-width="0.2">75</text>
<text x="453.3" y="465.4" font-size="6.3" text-anchor="middle" fill="#161616" stroke="#161616" stroke-width="0.2">100</text>
<text x="362.1" y="475.6" font-size="6.3" textLength="50" lengthAdjust="spacingAndGlyphs" fill="#161616" stroke="#161616" stroke-width="0.2">Percent of patients</text>
<text x="394.9" y="349.6" font-size="4.8" text-anchor="middle" fill="#222" stroke="#222" stroke-width="0.2">1</text>
</g>
<rect x="0.5" y="0.5" width="519" height="482" fill="none" stroke="#4a4a4a" stroke-width="1"/>
</svg>
</body></html>
